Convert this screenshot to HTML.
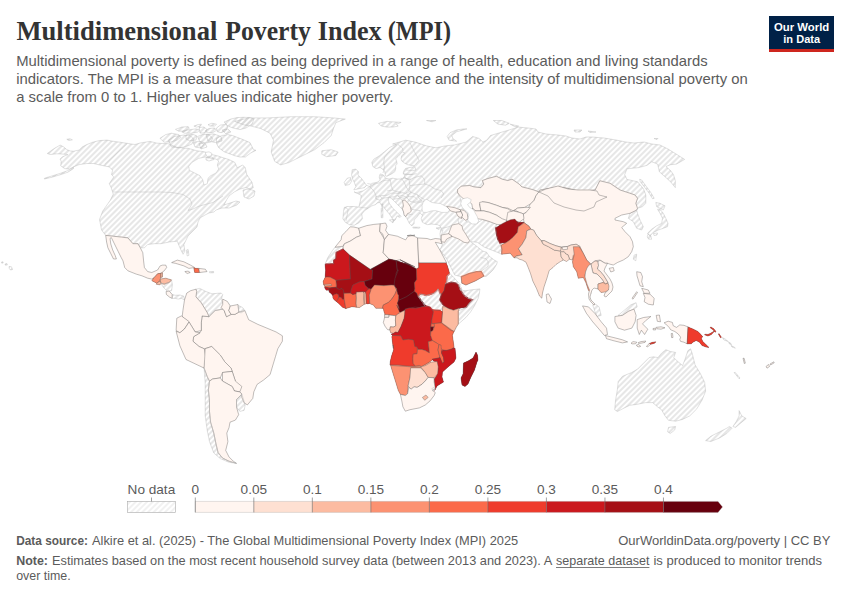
<!DOCTYPE html>
<html><head><meta charset="utf-8"><style>
html,body{margin:0;padding:0;background:#fff;width:850px;height:600px;overflow:hidden}
svg{display:block}
.t{font-family:"Liberation Serif",serif;font-weight:bold;font-size:27px;fill:#333}
.s{font-family:"Liberation Sans",sans-serif;font-size:14.6px;fill:#5b5b5b}
.f{font-family:"Liberation Sans",sans-serif;font-size:12.8px;fill:#5b5b5b}
.fb{font-weight:bold}
.lg{font-family:"Liberation Sans",sans-serif;font-size:13.6px;fill:#5b5b5b}
.nd{fill:url(#hatch);stroke:#bbb;stroke-width:0.45}
.wt{fill:#fff;stroke:#bbb;stroke-width:0.45}
.cl{stroke:#555;stroke-opacity:0.75;stroke-width:0.5}
.ln{fill:none;stroke:#bbb;stroke-width:0.45}
.logo{font-family:"Liberation Sans",sans-serif;font-weight:bold;font-size:11.8px;fill:#fff}
</style></head><body>
<svg width="850" height="600" viewBox="0 0 850 600">
<defs>
<pattern id="hatch" patternUnits="userSpaceOnUse" width="4" height="4" patternTransform="rotate(-45 2 2)">
<path d="M-1,2 l6,0" stroke="#cfcfcf" stroke-width="0.6"/>
</pattern>
</defs>
<rect width="850" height="600" fill="#fff"/>
<text x="16.5" y="40.1" class="t" textLength="200.8" lengthAdjust="spacingAndGlyphs">Multidimensional</text>
<text x="225.3" y="40.1" class="t" textLength="85.6" lengthAdjust="spacingAndGlyphs">Poverty</text>
<text x="317.8" y="40.1" class="t" textLength="63.8" lengthAdjust="spacingAndGlyphs">Index</text>
<text x="387.8" y="40.1" class="t" textLength="63.2" lengthAdjust="spacingAndGlyphs">(MPI)</text>
<text x="16.2" y="66.4" class="s" textLength="691.5" lengthAdjust="spacingAndGlyphs">Multidimensional poverty is defined as being deprived in a range of health, education and living standards</text>
<text x="16.2" y="84.1" class="s" textLength="731.6" lengthAdjust="spacingAndGlyphs">indicators. The MPI is a measure that combines the prevalence and the intensity of multidimensional poverty on</text>
<text x="16.2" y="101.7" class="s" textLength="377.3" lengthAdjust="spacingAndGlyphs">a scale from 0 to 1. Higher values indicate higher poverty.</text>
<rect x="769" y="16" width="65" height="36" fill="#002147"/>
<rect x="769" y="49" width="65" height="3" fill="#ce261e"/>
<text x="774" y="30.6" class="logo" textLength="55.2" lengthAdjust="spacingAndGlyphs">Our World</text>
<text x="783.3" y="42.6" class="logo" textLength="36.8" lengthAdjust="spacingAndGlyphs">in Data</text>
<g id="map">
<clipPath id="landclip"><path d="M768.50,364.50 766.00,366.50 767.00,368.20 769.50,366.50 769.15,365.80 774.20,362.80 773.80,361.80 768.64,364.79Z M741.76,415.88 739.12,410.59 739.12,415.88 736.47,421.18 732.94,426.47 735.59,427.35 740.88,422.94 746.18,418.53Z M743.00,358.20 744.30,363.50 745.30,363.20 744.20,358.40Z M734.20,372.60 739.20,378.80 740.00,378.00 735.20,372.40Z M721.52,337.13 721.27,337.00 718.90,333.50 718.60,334.40 720.50,337.70Z M722.40,337.60 724.00,340.00 728.13,341.55 727.88,341.38 726.00,339.50Z M728.50,341.80 729.00,343.50 730.11,344.17 732.00,347.00 735.30,348.20 734.50,347.20 731.80,345.89 731.00,343.50Z M732.06,428.24 729.41,426.47 726.76,428.24 719.71,431.76 710.88,436.18 705.59,440.59 710.88,441.47 719.71,437.94 726.76,433.53Z M704.50,334.80 707.80,336.00 711.10,334.80 713.50,332.30 714.30,331.23 715.20,332.30 716.00,331.50 713.50,328.60 710.70,326.90 710.20,327.80 713.10,329.80 714.25,331.17 712.70,331.90 710.20,333.50 707.80,334.40 705.00,334.20Z M679.80,339.70 680.60,341.40 683.90,342.20 687.20,343.80 691.30,343.80 692.90,342.20 696.20,340.50 699.50,342.20 702.00,345.50 706.10,347.10 709.00,347.50 706.10,344.70 702.80,341.40 701.20,338.10 702.80,336.80 700.40,334.00 697.90,331.50 692.90,329.00 688.00,326.90 683.90,325.30 679.80,324.90 676.50,327.40 673.20,325.70 672.40,322.40 668.20,321.20 664.10,322.80 665.80,324.10 669.10,327.40 670.70,329.80 674.80,331.50 678.10,333.90 680.60,337.20Z M661.47,409.71 665.00,415.88 668.53,420.29 675.59,421.18 682.65,419.41 689.71,415.88 696.76,408.82 702.06,400.00 705.59,391.18 704.71,382.35 700.29,373.53 695.00,364.71 692.35,354.12 690.59,348.82 687.94,350.59 685.29,358.53 682.65,365.59 677.35,361.18 673.82,357.65 675.59,352.35 670.29,351.47 665.88,349.71 661.47,353.24 657.94,357.65 653.53,356.76 649.12,357.65 642.94,363.82 637.65,369.12 631.47,372.65 622.65,376.18 618.24,381.47 617.35,389.41 615.59,400.00 614.71,409.71 617.35,411.47 622.65,408.82 629.71,405.29 636.76,404.41 645.59,402.65 652.65,402.65 657.94,407.06Z M324.59,287.22 325.06,288.82 326.47,290.24 328.82,290.05 329.11,292.12 331.18,293.53 332.87,295.69 332.87,297.76 334.00,299.65 336.35,301.53 338.71,303.41 342.47,307.18 345.76,308.59 351.88,306.71 356.59,307.18 359.41,307.65 364.58,304.03 364.59,304.35 366.47,303.41 366.94,303.88 369.76,303.41 370.00,303.75 373.33,305.00 375.83,308.33 383.33,308.33 384.00,311.67 385.00,314.17 384.58,314.83 384.58,317.08 384.17,319.17 383.33,322.50 385.00,326.25 387.50,329.58 389.83,330.00 390.83,332.92 393.75,333.33 391.25,334.17 392.50,335.42 391.83,336.67 392.50,342.50 393.57,350.00 391.71,355.59 390.29,361.24 389.94,364.91 390.46,364.92 393.53,375.00 395.88,382.65 398.24,390.29 400.35,394.41 401.76,400.88 402.94,406.76 405.29,411.24 410.00,409.71 419.41,407.94 425.29,405.00 430.00,400.88 434.12,395.59 435.29,392.65 434.14,391.72 434.83,390.34 434.94,390.29 434.91,390.18 437.00,386.00 443.50,382.00 442.00,377.00 442.50,372.00 448.00,367.00 454.00,362.00 456.00,358.00 455.00,348.00 454.29,348.20 452.35,335.29 453.90,331.68 454.00,331.76 456.35,327.06 458.24,324.24 465.76,317.65 470.47,312.00 474.24,306.35 478.00,298.82 479.41,293.18 479.88,288.94 470.47,289.88 465.76,290.82 462.14,290.30 461.06,287.06 458.71,285.65 460.59,285.06 456.35,280.35 452.59,276.12 449.58,273.29 447.41,265.76 446.47,263.88 446.47,262.65 442.25,254.59 443.13,254.05 446.70,259.00 452.00,269.70 454.70,275.00 461.18,276.80 461.76,283.24 465.88,285.00 465.89,285.00 465.90,285.00 475.30,280.90 483.80,276.20 486.00,276.50 489.30,273.70 493.30,269.70 496.70,264.30 497.30,261.70 494.70,260.30 489.30,256.30 486.70,252.30 482.70,251.00 476.00,245.70 470.70,241.70 477.30,242.30 484.00,247.00 490.70,249.70 497.30,252.30 501.70,254.30 510.25,253.25 514.00,257.75 517.00,257.75 519.25,259.25 522.25,260.00 526.00,262.25 528.25,267.50 530.50,273.50 532.75,281.00 536.50,288.50 539.50,296.00 541.75,298.25 542.50,293.00 544.00,287.00 547.00,278.00 549.25,270.50 553.00,267.50 556.00,264.50 560.50,261.50 563.50,260.00 566.50,261.50 569.50,259.25 572.87,260.19 572.50,261.67 573.33,266.67 576.67,271.67 578.33,278.33 583.33,277.50 585.83,282.50 588.33,290.00 589.21,291.17 588.50,294.00 589.00,299.00 591.00,302.00 593.69,304.69 592.71,304.82 595.87,314.34 588.47,306.94 582.54,305.88 586.35,313.29 592.71,321.76 599.06,329.18 604.35,335.53 604.80,335.38 605.30,335.21 607.53,334.47 606.47,328.12 601.18,321.76 597.17,316.41 601.18,315.41 599.06,306.94 595.88,304.40 595.46,304.46 591.00,300.00 590.00,297.00 591.00,293.00 592.00,290.00 594.00,288.00 598.00,289.00 601.00,292.50 605.35,291.96 604.00,296.00 606.00,297.00 612.00,291.00 613.00,287.00 612.00,283.00 610.00,279.00 604.00,271.00 605.00,268.00 607.50,263.30 610.00,264.20 613.30,265.00 617.50,262.50 623.30,260.00 628.30,256.70 631.70,251.70 633.30,246.70 632.50,241.70 630.00,236.70 625.00,231.70 621.70,227.50 626.70,223.30 623.30,221.70 615.00,220.00 615.00,218.30 621.70,215.00 630.01,213.30 628.33,218.33 633.33,221.67 636.67,228.33 641.67,230.00 643.33,226.67 640.00,220.00 637.50,213.33 636.68,210.04 637.50,208.30 642.50,206.70 645.80,203.30 645.80,195.00 643.50,188.80 637.60,181.80 627.00,179.40 624.70,174.70 627.00,168.80 638.80,167.60 647.10,165.30 651.80,161.80 657.60,164.10 659.40,171.80 664.70,176.50 670.60,181.80 675.30,187.60 675.30,180.60 673.50,174.70 670.60,170.60 665.90,166.50 670.60,164.70 676.50,164.10 684.70,159.40 675.30,153.50 668.00,149.00 660.00,145.00 652.00,144.00 644.00,142.00 634.00,143.00 626.00,142.00 616.00,140.00 604.00,138.00 592.00,137.00 586.00,137.00 580.00,139.00 572.00,138.00 566.00,136.00 558.00,135.00 546.00,134.00 538.00,132.00 536.00,129.00 528.00,128.00 516.50,126.89 518.70,126.10 510.20,124.20 516.93,127.63 509.30,129.90 499.90,132.70 490.50,135.50 486.70,140.20 482.90,142.10 479.20,138.40 472.60,136.50 466.00,142.10 454.70,144.90 445.30,145.90 435.90,147.80 426.50,145.90 415.20,142.10 405.80,140.20 392.60,144.00 396.12,144.24 389.76,147.41 384.47,151.65 379.18,155.88 373.88,159.06 371.76,162.24 372.82,166.47 376.00,168.59 380.24,167.53 384.47,170.71 385.53,176.00 387.00,176.30 389.00,175.20 392.00,173.70 395.00,171.50 395.70,168.50 395.70,165.50 397.20,164.00 396.50,161.00 395.70,158.70 398.00,156.50 400.20,154.20 401.70,152.40 402.50,152.00 404.70,153.10 401.70,155.70 401.00,158.70 401.70,161.00 404.70,163.20 407.70,164.70 411.50,165.50 416.25,165.50 416.32,166.48 408.50,167.70 405.50,168.50 404.00,170.70 403.20,173.00 404.70,175.20 404.00,177.50 401.70,179.00 397.20,179.00 392.70,178.20 389.00,179.00 385.98,178.23 386.11,178.90 386.07,178.92 385.53,178.12 383.89,175.67 383.41,174.94 380.24,173.88 379.18,177.06 380.24,180.24 377.06,182.35 371.76,183.41 369.65,186.59 366.47,188.71 363.29,190.82 359.06,191.88 356.24,192.82 361.18,195.29 360.59,200.00 359.41,204.71 358.82,207.06 354.12,206.47 347.06,206.47 344.12,207.65 343.53,211.76 342.94,218.82 345.29,222.35 349.41,224.71 354.12,225.29 358.82,222.94 362.35,218.82 361.76,214.12 364.71,210.59 368.24,208.24 371.76,205.88 375.29,204.71 377.65,202.94 380.00,202.35 380.59,204.12 381.76,205.29 381.76,208.24 381.18,208.24 381.18,217.65 382.94,217.65 382.94,206.35 386.47,210.59 389.41,214.12 391.76,217.65 392.73,219.58 389.41,220.00 392.94,222.94 393.53,221.18 395.29,220.00 397.06,215.88 399.41,217.41 401.18,216.47 397.65,212.94 392.94,208.24 389.41,203.53 388.24,200.00 389.41,197.06 391.76,198.82 395.29,202.35 398.82,205.88 402.35,209.41 403.53,211.76 404.12,215.29 405.19,216.00 407.06,218.82 409.41,223.53 411.76,225.88 412.78,224.87 412.94,224.71 414.12,223.53 414.12,220.00 416.47,217.65 420.00,212.94 422.35,215.29 421.18,218.82 422.35,222.35 427.06,224.71 431.76,224.12 437.65,224.71 440.00,226.00 440.70,227.24 441.26,226.48 440.00,233.70 440.61,239.12 435.29,238.53 430.82,239.71 427.06,238.53 417.65,237.94 414.12,236.18 410.59,235.00 407.06,235.59 408.53,235.53 405.59,239.94 397.35,236.18 388.53,234.41 385.59,230.29 387.00,226.18 385.59,223.00 380.29,223.82 373.82,224.41 366.76,225.59 358.76,228.18 353.82,227.00 350.29,226.76 345.82,231.71 341.82,235.59 341.12,239.71 336.76,245.00 335.00,247.35 332.65,250.29 327.94,257.35 325.00,264.18 325.59,270.29 325.06,277.53 323.18,281.29 323.65,284.59 325.28,287.31Z M530.44,203.82 528.62,207.41 524.71,207.41Z M518.94,222.57 523.50,219.09 524.09,222.23Z M500.78,245.23 500.20,243.20 505.54,242.77 505.56,242.84Z M496.42,224.34 500.34,224.84 496.09,227.66Z M459.63,195.28 462.59,198.24 468.24,201.06 471.76,203.88 472.47,208.12 473.88,215.18 476.71,218.71 482.63,219.45 477.30,223.00 470.70,222.30 466.70,221.70 467.26,219.37 468.00,219.00 467.78,217.23 468.00,216.30 467.57,215.59 467.33,213.67 464.97,211.31 464.00,209.70 461.30,203.00Z M464.84,307.49 464.96,307.89 458.24,311.06 459.65,308.24Z M439.84,250.02 435.29,242.29 438.82,243.00 442.70,244.08Z M439.27,309.71 442.59,309.16 442.45,311.82Z M432.20,359.80 435.01,361.68 429.74,362.20Z M400.00,259.71 405.66,262.86 405.33,263.62 396.18,260.65Z M508.86,123.52 509.30,123.30 501.80,120.50 493.30,120.50 498.00,124.20 505.50,125.20 508.33,123.78 508.33,123.78Z M440.50,227.50 436.00,228.00 439.00,229.50Z M412.94,227.06 412.94,228.00 419.41,228.24 420.00,227.29Z M605.41,335.53 606.47,338.71 613.88,340.82 622.35,342.94 627.65,341.88 622.35,339.76 613.88,337.65Z M674.71,430.00 675.59,426.47 668.53,427.35 667.65,431.76 670.29,433.53Z M671.20,333.50 671.60,337.60 673.00,337.50 672.50,333.40Z M648.09,233.89 647.20,237.00 648.70,239.20 651.70,239.20 650.63,235.17 652.13,233.67 651.31,233.77 651.24,233.53 658.30,230.00 663.30,228.30 667.50,226.70 668.00,223.30 665.80,218.30 663.30,213.30 660.00,209.20 657.50,209.20 660.00,213.30 662.50,218.30 661.70,223.30 656.70,225.80 651.70,229.20 647.50,233.30Z M658.83,207.75 658.83,207.74 660.00,208.33 661.75,209.20 661.73,209.20 663.33,210.00 665.00,205.83 660.00,203.33 655.83,202.50 656.67,206.67Z M653.50,233.50 654.00,235.50 657.00,235.00 657.50,233.00Z M653.00,328.50 653.30,330.00 655.80,329.80 655.59,328.66 661.00,329.20 665.00,327.80 661.00,326.80 656.00,327.40 656.49,328.08Z M656.24,315.41 657.29,321.34 660.47,321.76 659.41,314.99Z M654.00,138.50 657.00,139.50 658.00,138.50Z M646.50,346.50 647.00,347.00 648.50,346.30 650.50,344.30 652.00,344.00 655.00,343.00 655.70,341.80 652.50,342.30 649.80,343.20 648.00,344.50Z M641.67,288.33 644.23,293.44 643.33,293.33 645.00,297.50 644.17,301.67 648.33,304.17 653.33,305.00 654.17,298.33 649.16,293.33 650.00,293.33 648.33,290.00Z M641.67,180.00 639.67,179.17 640.33,181.67 644.17,186.67 649.17,193.33 652.50,198.67 654.17,198.33 650.83,192.50 645.83,185.83Z M650.94,316.47 643.53,317.53 637.18,319.65 637.18,328.12 639.29,334.47 641.41,330.24 644.59,334.47 647.76,329.18 642.47,323.88 645.65,320.71Z M636.40,345.00 637.00,346.20 639.00,347.00 640.70,346.30 638.50,344.50Z M638.50,343.40 641.00,343.20 645.00,342.40 645.80,341.00 641.00,341.60 638.20,342.60Z M636.80,342.20 633.00,341.60 631.00,343.20 632.00,343.90 635.50,343.80 635.77,343.47Z M640.83,272.50 636.67,271.67 637.00,275.83 638.33,280.00 640.00,285.83 643.33,286.67 641.67,281.67 642.50,276.67Z M632.00,298.33 633.00,299.17 637.50,292.50 636.67,291.67Z M617.24,316.14 614.94,316.47 614.94,321.76 618.12,328.12 624.47,330.24 631.88,328.12 635.06,321.76 636.12,315.41 634.00,309.06 637.18,306.94 636.12,302.71 630.82,304.82 624.47,310.12Z M634.17,255.00 633.33,259.17 635.83,260.83 636.67,254.17Z M613.33,267.50 609.17,268.33 610.83,272.00 614.17,270.83Z M596.00,132.00 588.00,131.00 590.00,132.50Z M574.00,130.00 575.00,132.00 580.00,132.00 582.00,130.00Z M551.50,299.00 548.50,293.75 546.25,294.50 547.00,302.00 550.00,303.50Z M465.00,386.50 468.00,384.00 471.00,377.00 474.50,370.00 477.00,362.00 478.00,360.00 477.50,355.00 476.00,352.00 473.00,358.00 468.00,361.00 463.50,363.00 463.00,374.00 461.00,378.00 462.00,385.00Z M451.90,135.50 456.60,131.80 466.90,128.90 464.10,128.90 456.60,129.90 450.00,132.70 447.20,136.50 449.10,140.20 456.60,141.20 452.80,138.40Z M426.50,120.50 432.10,121.80 435.90,120.50Z M386.90,121.40 378.50,123.30 381.30,126.10 386.90,127.10 392.60,127.10 398.20,126.10 396.40,124.20 401.10,122.40Z M349.53,184.47 351.65,181.29 350.59,177.59 347.41,178.12 344.24,182.35 345.29,185.53Z M352.71,179.18 354.29,182.35 355.88,186.59 353.76,189.76 359.06,188.71 364.35,187.65 366.47,185.53 364.35,182.35 361.18,178.12 358.00,174.94 358.53,171.76 355.88,169.12 352.18,169.65 351.65,174.94Z M70.17,169.22 67.90,170.60 60.10,173.40 51.20,176.20 44.50,178.20 44.30,179.00 51.20,177.40 60.10,174.80 67.90,172.20 73.50,168.60 73.50,166.90 79.10,164.60 86.90,163.50 93.60,163.50 98.10,164.60 103.70,165.80 109.30,166.90 112.60,170.20 111.50,174.70 113.80,176.90 109.30,183.60 111.20,187.80 113.30,194.10 110.10,200.50 102.70,211.10 99.50,219.50 101.60,230.10 105.70,235.40 106.60,242.10 107.90,247.80 113.50,259.00 116.40,259.00 115.20,255.50 112.70,250.00 110.80,244.00 110.00,238.50 111.30,237.50 114.50,244.00 118.20,251.50 121.00,257.20 123.00,260.94 124.65,267.53 127.94,270.82 136.18,274.12 141.94,275.76 147.71,278.24 152.89,279.27 151.82,280.71 156.76,283.18 156.27,284.33 160.06,284.82 160.88,283.18 163.35,287.29 167.35,291.29 166.12,291.47 166.42,294.53 169.48,297.13 172.24,298.35 175.29,298.35 178.35,299.12 181.41,298.35 184.47,299.88 183.71,296.06 179.88,294.99 175.29,295.29 172.24,294.53 169.22,291.06 171.59,290.59 172.41,284.82 171.51,279.96 171.59,279.88 171.49,279.85 165.82,278.24 158.63,279.26 158.39,277.91 162.53,277.08 162.53,272.06 164.18,270.82 166.65,267.53 165.82,265.06 162.53,265.06 160.06,265.88 157.59,270.00 151.82,272.47 147.71,271.65 144.41,267.53 143.59,260.94 142.76,252.71 140.29,247.76 144.41,247.76 147.71,244.47 154.29,243.65 160.88,243.65 169.12,242.00 177.35,241.18 178.18,243.65 180.65,249.41 183.12,254.35 184.76,251.06 183.94,244.47 188.00,236.00 197.00,227.00 198.00,222.00 200.00,218.00 205.00,215.00 209.00,213.00 214.00,212.00 216.00,210.00 222.00,208.00 229.00,208.00 237.00,205.00 240.00,202.00 236.00,201.00 224.00,205.00 226.70,199.70 229.30,195.70 234.70,191.70 240.00,189.00 245.30,187.70 249.99,188.83 249.99,188.83 243.00,190.00 244.00,197.00 249.00,199.00 254.00,196.00 255.00,191.00 250.02,189.34 253.30,187.70 252.00,182.30 249.30,178.30 246.70,174.30 245.30,167.70 242.70,165.00 237.30,167.70 234.70,162.30 229.30,159.70 224.00,158.00 218.00,156.00 211.20,154.40 204.00,151.70 197.00,150.80 188.80,148.50 182.89,147.90 192.00,144.00 192.79,142.01 190.29,142.19 190.14,140.98 196.00,140.00 197.00,136.00 191.24,133.70 191.28,134.12 186.00,135.00 186.00,135.24 183.53,135.06 179.54,135.66 178.82,134.59 171.29,133.18 165.65,134.59 160.00,138.35 165.21,143.57 157.10,143.20 150.00,141.40 140.00,143.00 135.00,144.50 127.20,143.40 120.50,142.30 112.60,141.20 107.10,140.10 99.20,140.60 92.50,142.30 86.90,144.50 82.50,146.80 79.10,150.10 73.50,151.20 70.20,151.00 66.80,149.60 63.50,146.80 60.10,145.10 53.40,149.00 47.30,153.50 50.00,154.50 56.80,153.80 62.00,154.00 67.90,154.60 62.40,156.80 60.10,159.10 61.20,161.30 60.70,165.80 64.60,168.60Z M164.27,142.21 164.28,142.12 169.28,142.12 170.36,144.64Z M191.06,133.18 197.65,132.24 199.45,129.98 200.00,133.00 205.00,133.00 205.86,131.50 207.06,132.71 212.71,132.71 216.47,130.35 214.59,128.00 208.94,128.47 207.13,129.60 204.00,127.00 199.82,127.42 201.41,124.24 197.65,124.71 193.88,126.12 196.71,127.06 198.82,126.53 199.43,129.85 195.76,128.94 186.59,130.09 189.18,128.47 188.24,126.59 181.65,127.06 175.53,129.41 178.82,131.29 180.48,131.17 184.47,133.18Z M216.98,130.03 217.32,131.42 217.41,131.76 221.18,132.71 223.70,131.70 226.00,134.00 231.00,132.00 228.00,129.00 226.68,129.22 228.24,126.10 233.00,128.00 240.00,129.60 246.00,128.00 249.29,125.80 251.18,126.12 260.59,128.47 270.00,133.18 273.53,140.24 271.18,152.00 274.71,161.41 280.59,164.94 288.82,162.59 300.59,156.71 314.71,149.65 324.12,142.59 331.18,135.53 333.53,128.47 335.88,122.59 345.29,119.06 333.53,117.88 314.71,116.71 291.18,116.71 267.65,117.88 251.01,117.88 250.00,117.50 244.00,117.30 237.00,117.60 231.00,119.00 224.00,122.00 226.19,124.19 220.24,125.18 216.47,128.00Z M226.30,134.30 226.76,134.76 222.12,135.53 220.52,136.33 214.00,134.00 213.03,134.06 210.28,134.23 207.06,134.43 204.31,134.20 204.69,133.53 197.91,136.36 197.55,136.22 199.67,141.52 193.00,142.00 195.00,147.00 200.61,147.94 201.00,149.00 207.00,147.00 205.04,143.08 210.82,142.12 211.05,141.65 215.00,142.50 216.49,142.18 216.50,143.50 218.70,147.70 224.00,151.70 229.30,153.70 234.70,155.70 240.00,157.00 245.30,157.00 250.70,153.00 256.00,150.30 253.50,149.60 250.00,142.60 241.80,139.10 232.40,135.50Z M184.47,299.88 182.94,310.59 182.20,316.53 181.41,315.94 176.82,318.24 176.02,331.09 179.88,345.76 186.00,359.53 204.07,368.14 205.15,383.29 205.15,415.76 207.32,430.91 209.48,441.73 213.81,452.99 220.30,458.61 228.96,462.29 236.54,463.38 233.29,461.21 228.96,456.88 225.71,450.39 227.88,441.73 226.80,433.07 228.96,427.66 230.04,422.25 235.45,420.09 238.70,414.68 236.65,407.50 236.79,407.43 239.78,411.43 244.11,410.35 245.45,403.66 247.36,404.94 252.77,398.44 253.85,391.95 257.10,384.37 263.59,380.04 270.09,374.63 273.33,363.81 275.47,356.47 277.76,348.82 282.35,341.18 282.35,335.82 276.24,332.00 267.06,328.18 257.88,324.35 248.71,319.76 244.88,310.59 242.59,307.53 238.08,305.28 238.00,304.47 230.35,306.00 227.29,301.41 221.56,298.55 222.71,294.53 221.18,293.00 212.00,293.76 205.88,291.47 199.76,288.41 195.94,289.18 190.59,290.71 186.76,293.00Z M220.30,377.88 222.39,372.68 222.47,372.69 222.47,381.13Z M201.29,330.47 199.79,332.72 195.21,332.00 195.21,331.99Z M326.47,156.71 335.88,155.53 338.24,152.00 331.18,149.65 321.76,150.82 321.76,154.35Z M214.59,126.12 216.47,124.24 211.76,123.29 208.00,124.71 209.88,126.12Z M209.47,271.65 209.64,272.80 213.59,272.80 213.59,271.48Z M177.35,260.12 171.59,262.59 175.71,263.41 183.94,265.88 188.88,268.35 193.68,267.67 194.65,272.47 199.59,272.47 207.00,271.65 205.35,269.18 198.76,268.35 196.02,268.35 190.53,265.06 183.94,261.76Z M188.06,271.15 184.76,271.65 187.24,273.46 190.20,272.47Z M188.06,249.41 186.41,250.24 187.24,256.00 188.88,255.18Z M66.80,139.30 69.00,140.60 72.40,139.80 70.00,138.80Z M1.50,262.00 1.80,263.20 3.20,263.00 3.00,261.80Z M5.00,264.00 5.40,265.20 7.40,265.00 7.00,263.60Z M9.00,266.50 9.30,268.50 10.50,270.00 12.50,269.50 11.50,266.80Z"/></clipPath>
<g clip-path="url(#landclip)">
<path d="M47.3,153.5 53.4,149.0 60.1,145.1 63.5,146.8 66.8,149.6 70.2,151.0 73.5,151.2 79.1,150.1 82.5,146.8 86.9,144.5 92.5,142.3 99.2,140.6 107.1,140.1 112.6,141.2 120.5,142.3 127.2,143.4 135.0,144.5 140.0,143.0 150.0,141.4 157.1,143.2 168.0,143.7 177.0,147.3 188.8,148.5 197.0,150.8 204.0,151.7 211.2,154.4 218.0,156.0 224.0,158.0 229.3,159.7 234.7,162.3 237.3,167.7 242.7,165.0 245.3,167.7 246.7,174.3 249.3,178.3 252.0,182.3 253.3,187.7 250.7,189.0 245.3,187.7 240.0,189.0 234.7,191.7 229.3,195.7 226.7,199.7 224.0,205.0 230.0,203.0 236.0,201.0 240.0,202.0 237.0,205.0 229.0,208.0 222.0,208.0 216.0,210.0 214.0,212.0 209.0,213.0 205.0,215.0 200.0,218.0 198.0,222.0 197.0,227.0 193.0,231.0 188.0,236.0 183.9,244.5 184.8,251.1 183.1,254.3 180.7,249.4 178.2,243.7 177.3,241.2 169.1,242.0 160.9,243.7 154.3,243.7 147.7,244.5 144.4,247.8 141.1,247.8 137.8,243.7 132.9,243.7 127.9,237.9 121.3,237.1 113.1,236.2 105.7,235.4 101.6,230.1 99.5,219.5 102.7,211.1 110.1,200.5 113.3,194.1 111.2,187.8 109.3,183.6 113.8,176.9 111.5,174.7 112.6,170.2 109.3,166.9 103.7,165.8 98.1,164.6 93.6,163.5 86.9,163.5 79.1,164.6 73.5,166.9 69.1,169.1 64.6,168.6 60.7,165.8 61.2,161.3 60.1,159.1 62.4,156.8 67.9,154.6 62.0,154.0 56.8,153.8 50.0,154.5Z" fill="url(#hatch)" stroke="url(#hatch)" stroke-width="1.6"/>
<path d="M73.5,167.2 67.9,170.6 60.1,173.4 51.2,176.2 44.5,178.2 44.3,179.0 51.2,177.4 60.1,174.8 67.9,172.2 73.5,168.6Z" fill="url(#hatch)" stroke="url(#hatch)" stroke-width="1.6"/>
<path d="M66.8,139.3 70.0,138.8 72.4,139.8 69.0,140.6Z" fill="url(#hatch)" stroke="url(#hatch)" stroke-width="1.6"/>
<path d="M1.5,262.0 3.0,261.8 3.2,263.0 1.8,263.2Z" fill="url(#hatch)" stroke="url(#hatch)" stroke-width="1.6"/>
<path d="M5.0,264.0 7.0,263.6 7.4,265.0 5.4,265.2Z" fill="url(#hatch)" stroke="url(#hatch)" stroke-width="1.6"/>
<path d="M9.0,266.5 11.5,266.8 12.5,269.5 10.5,270.0 9.3,268.5Z" fill="url(#hatch)" stroke="url(#hatch)" stroke-width="1.6"/>
<path d="M175.5,129.4 181.7,127.1 188.2,126.6 189.2,128.5 185.4,130.8 178.8,131.3Z" fill="url(#hatch)" stroke="url(#hatch)" stroke-width="1.6"/>
<path d="M193.9,126.1 197.7,124.7 201.4,124.2 200.5,126.1 196.7,127.1Z" fill="url(#hatch)" stroke="url(#hatch)" stroke-width="1.6"/>
<path d="M181.7,131.8 188.2,129.9 195.8,128.9 199.5,129.9 197.7,132.2 191.1,133.2 184.5,133.2Z" fill="url(#hatch)" stroke="url(#hatch)" stroke-width="1.6"/>
<path d="M205.2,130.8 208.9,128.5 214.6,128.0 216.5,130.3 212.7,132.7 207.1,132.7Z" fill="url(#hatch)" stroke="url(#hatch)" stroke-width="1.6"/>
<path d="M208.0,124.7 211.8,123.3 216.5,124.2 214.6,126.1 209.9,126.1Z" fill="url(#hatch)" stroke="url(#hatch)" stroke-width="1.6"/>
<path d="M216.5,128.0 220.2,125.2 225.9,124.2 227.8,127.1 225.9,130.8 221.2,132.7 217.4,131.8Z" fill="url(#hatch)" stroke="url(#hatch)" stroke-width="1.6"/>
<path d="M224.0,122.0 231.0,119.0 237.0,117.6 244.0,117.3 250.0,117.5 254.0,119.0 252.0,124.0 246.0,128.0 240.0,129.6 233.0,128.0 228.0,126.0Z" fill="url(#hatch)" stroke="url(#hatch)" stroke-width="1.6"/>
<path d="M160.0,138.3 165.7,134.6 171.3,133.2 178.8,134.6 180.7,137.4 176.9,140.2 170.3,142.1 163.8,142.1Z" fill="url(#hatch)" stroke="url(#hatch)" stroke-width="1.6"/>
<path d="M168.5,140.2 174.1,136.5 183.5,135.1 190.1,135.5 193.9,139.3 192.0,144.0 185.4,146.8 178.8,147.8 171.3,146.8Z" fill="url(#hatch)" stroke="url(#hatch)" stroke-width="1.6"/>
<path d="M197.7,136.5 203.3,134.1 208.9,134.6 212.7,138.3 210.8,142.1 205.2,143.1 199.5,141.2Z" fill="url(#hatch)" stroke="url(#hatch)" stroke-width="1.6"/>
<path d="M216.5,138.3 222.1,135.5 227.8,134.6 232.4,135.5 241.8,139.1 250.0,142.6 253.5,149.6 256.0,150.3 250.7,153.0 245.3,157.0 240.0,157.0 234.7,155.7 229.3,153.7 224.0,151.7 218.7,147.7 216.5,143.5Z" fill="url(#hatch)" stroke="url(#hatch)" stroke-width="1.6"/>
<path d="M206.0,134.5 214.0,134.0 221.0,136.5 222.0,141.0 215.0,142.5 208.0,141.0Z" fill="url(#hatch)" stroke="url(#hatch)" stroke-width="1.6"/>
<path d="M199.0,143.5 205.0,143.0 207.0,147.0 201.0,149.0Z" fill="url(#hatch)" stroke="url(#hatch)" stroke-width="1.6"/>
<path d="M186.0,135.0 192.0,134.0 197.0,136.0 196.0,140.0 190.0,141.0 186.0,139.0Z" fill="url(#hatch)" stroke="url(#hatch)" stroke-width="1.6"/>
<path d="M199.0,127.5 204.0,127.0 207.0,129.5 205.0,133.0 200.0,133.0Z" fill="url(#hatch)" stroke="url(#hatch)" stroke-width="1.6"/>
<path d="M193.0,142.0 200.0,141.5 204.0,144.5 201.0,148.0 195.0,147.0Z" fill="url(#hatch)" stroke="url(#hatch)" stroke-width="1.6"/>
<path d="M222.0,130.0 228.0,129.0 231.0,132.0 226.0,134.0Z" fill="url(#hatch)" stroke="url(#hatch)" stroke-width="1.6"/>
<path d="M206.0,157.5 212.0,157.0 214.0,159.5 209.0,161.0 206.0,160.0Z" fill="url(#hatch)" stroke="url(#hatch)" stroke-width="1.6"/>
<path d="M243.0,190.0 249.0,189.0 255.0,191.0 254.0,196.0 249.0,199.0 244.0,197.0Z" fill="url(#hatch)" stroke="url(#hatch)" stroke-width="1.6"/>
<path d="M234.7,121.4 248.8,117.9 267.6,117.9 291.2,116.7 314.7,116.7 333.5,117.9 345.3,119.1 335.9,122.6 333.5,128.5 331.2,135.5 324.1,142.6 314.7,149.7 300.6,156.7 288.8,162.6 280.6,164.9 274.7,161.4 271.2,152.0 273.5,140.2 270.0,133.2 260.6,128.5 251.2,126.1 244.1,124.9Z" fill="url(#hatch)" stroke="url(#hatch)" stroke-width="1.6"/>
<path d="M321.8,150.8 331.2,149.7 338.2,152.0 335.9,155.5 326.5,156.7 321.8,154.3Z" fill="url(#hatch)" stroke="url(#hatch)" stroke-width="1.6"/>
<path d="M105.7,235.4 113.1,236.2 121.3,237.1 127.9,237.9 132.9,243.7 137.8,243.7 140.3,247.8 142.8,252.7 143.6,260.9 144.4,267.5 147.7,271.6 151.8,272.5 157.6,270.0 160.1,265.9 162.5,265.1 165.8,265.1 166.7,267.5 164.2,270.8 160.9,273.3 157.6,273.8 154.3,277.4 151.8,279.1 147.7,278.2 141.9,275.8 136.2,274.1 127.9,270.8 124.7,267.5 123.0,260.9 121.0,257.2 118.2,251.5 114.5,244.0 111.3,237.5 110.0,238.5 110.8,244.0 112.7,250.0 115.2,255.5 116.4,259.0 113.5,259.0 110.7,253.4 107.9,247.8 106.6,242.1Z" fill="#fff5f0" stroke="#fff5f0" stroke-width="1.6"/>
<path d="M154.3,277.4 157.6,273.8 160.9,273.3 160.9,275.8 160.1,280.7 156.8,283.2 151.8,280.7Z" fill="#fc9272" stroke="#fc9272" stroke-width="1.6"/>
<path d="M160.9,273.3 162.5,272.8 162.5,277.1 160.9,277.4Z" fill="#fcbba1" stroke="#fcbba1" stroke-width="1.6"/>
<path d="M160.1,279.1 165.8,278.2 171.6,279.9 169.1,282.4 164.2,284.0 160.9,283.2Z" fill="#fcbba1" stroke="#fcbba1" stroke-width="1.6"/>
<path d="M156.8,283.2 160.1,281.0 160.9,283.2 160.1,284.8 156.3,284.3Z" fill="#fcbba1" stroke="#fcbba1" stroke-width="1.6"/>
<path d="M160.9,283.2 164.2,284.0 169.1,282.4 171.6,280.4 172.4,284.8 171.6,290.6 167.5,291.4 163.3,287.3Z" fill="url(#hatch)" stroke="url(#hatch)" stroke-width="1.6"/>
<path d="M166.1,291.5 169.2,291.0 172.2,294.5 172.2,298.4 169.5,297.1 166.4,294.5Z" fill="#fff5f0" stroke="#fff5f0" stroke-width="1.6"/>
<path d="M172.2,294.5 175.3,295.3 179.9,295.0 183.7,296.1 184.5,299.9 181.4,298.4 178.3,299.1 175.3,298.4 172.2,298.4Z" fill="url(#hatch)" stroke="url(#hatch)" stroke-width="1.6"/>
<path d="M171.6,262.6 177.3,260.1 183.9,261.8 190.5,265.1 194.7,267.5 188.9,268.4 183.9,265.9 175.7,263.4Z" fill="#fff5f0" stroke="#fff5f0" stroke-width="1.6"/>
<path d="M193.8,268.4 198.8,268.4 199.6,272.5 194.7,272.5Z" fill="#fb6a4a" stroke="#fb6a4a" stroke-width="1.6"/>
<path d="M198.8,268.4 205.3,269.2 207.0,271.6 199.6,272.5Z" fill="#fff5f0" stroke="#fff5f0" stroke-width="1.6"/>
<path d="M184.8,271.6 188.1,271.1 190.2,272.5 187.2,273.5Z" fill="#fff5f0" stroke="#fff5f0" stroke-width="1.6"/>
<path d="M209.5,271.6 213.6,271.5 213.6,272.8 209.6,272.8Z" fill="url(#hatch)" stroke="url(#hatch)" stroke-width="1.6"/>
<path d="M186.4,250.2 188.1,249.4 188.9,255.2 187.2,256.0Z" fill="url(#hatch)" stroke="url(#hatch)" stroke-width="1.6"/>
<path d="M208.9,316.7 215.1,310.6 222.7,309.1 224.2,310.6 226.5,316.7 231.1,314.4 234.9,314.4 238.8,312.1 244.9,310.6 248.7,319.8 257.9,324.4 267.1,328.2 276.2,332.0 282.4,335.8 282.4,341.2 277.8,348.8 275.5,356.5 273.3,363.8 270.1,374.6 263.6,380.0 257.1,384.4 253.8,391.9 252.8,398.4 247.4,404.9 244.1,402.8 241.9,397.4 240.9,393.0 234.4,390.9 235.4,381.1 232.2,371.4 231.1,368.1 224.6,361.6 220.3,355.1 211.7,346.5 204.3,348.8 199.0,346.5 192.9,341.2 193.7,336.6 199.8,332.8 201.3,330.5 201.3,322.8 202.1,315.9Z" fill="#fff5f0" stroke="#fff5f0" stroke-width="1.6"/>
<path d="M195.9,289.2 199.8,288.4 205.9,291.5 212.0,293.8 221.2,293.0 222.7,294.5 221.2,299.9 224.2,305.2 222.7,309.1 215.1,310.6 208.9,316.7 207.4,312.9 201.3,302.9 195.9,296.8 196.7,291.5Z" fill="url(#hatch)" stroke="url(#hatch)" stroke-width="1.6"/>
<path d="M184.5,299.9 186.8,293.0 190.6,290.7 195.9,289.2 196.7,291.5 195.9,296.8 201.3,302.9 207.4,312.9 208.9,316.7 202.1,315.9 201.3,322.8 201.3,330.5 195.2,332.0 189.1,322.1 182.2,316.7 182.9,310.6Z" fill="#fff5f0" stroke="#fff5f0" stroke-width="1.6"/>
<path d="M176.8,318.2 181.4,315.9 189.1,321.6 184.5,328.9 179.9,332.8 176.1,330.5Z" fill="#fff5f0" stroke="#fff5f0" stroke-width="1.6"/>
<path d="M176.1,331.2 179.9,332.8 184.5,328.9 189.1,322.1 195.2,332.0 200.1,332.8 193.7,336.6 192.9,341.2 199.0,346.5 204.3,348.8 205.9,358.0 204.1,368.1 186.0,359.5 179.9,345.8Z" fill="#fff5f0" stroke="#fff5f0" stroke-width="1.6"/>
<path d="M222.7,299.1 227.3,301.4 230.3,306.0 228.8,310.6 231.1,314.4 226.5,316.7 224.2,310.6 221.2,307.5 222.7,304.5Z" fill="#fff5f0" stroke="#fff5f0" stroke-width="1.6"/>
<path d="M230.3,306.0 238.0,304.5 238.8,312.1 234.9,314.4 231.1,314.4 228.8,310.6Z" fill="#fff5f0" stroke="#fff5f0" stroke-width="1.6"/>
<path d="M238.0,305.2 242.6,307.5 244.9,310.6 241.1,312.9 238.8,312.1Z" fill="url(#hatch)" stroke="url(#hatch)" stroke-width="1.6"/>
<path d="M205.2,348.7 211.7,346.5 220.3,355.1 224.6,361.6 231.1,368.1 232.2,371.4 222.5,372.5 220.3,377.9 212.7,379.0 209.5,381.1 207.3,376.8 204.1,368.1Z" fill="#fff5f0" stroke="#fff5f0" stroke-width="1.6"/>
<path d="M222.5,372.5 232.2,371.4 235.4,381.1 241.9,386.5 239.8,391.9 234.4,390.9 232.2,386.5 222.5,381.1Z" fill="#fff5f0" stroke="#fff5f0" stroke-width="1.6"/>
<path d="M209.5,381.1 212.7,379.0 220.3,377.9 222.5,381.1 232.2,386.5 234.4,390.9 239.8,391.9 241.9,394.1 236.5,399.5 236.5,407.1 238.7,414.7 235.4,420.1 230.0,422.2 229.0,427.7 226.8,433.1 227.9,441.7 225.7,450.4 229.0,456.9 233.3,461.2 236.5,463.4 229.0,461.2 222.5,458.0 218.1,452.6 216.0,443.9 213.8,433.1 210.6,422.2 209.5,411.4 209.5,400.6 208.4,389.8Z" fill="#fff5f0" stroke="#fff5f0" stroke-width="1.6"/>
<path d="M236.5,399.5 241.9,394.1 245.2,404.9 244.1,410.4 239.8,411.4 236.5,407.1Z" fill="url(#hatch)" stroke="url(#hatch)" stroke-width="1.6"/>
<path d="M204.1,368.1 207.3,376.8 209.5,381.1 208.4,389.8 209.5,400.6 209.5,411.4 210.6,422.2 213.8,433.1 216.0,443.9 218.1,452.6 222.5,458.0 229.0,461.2 236.5,463.4 229.0,462.3 220.3,458.6 213.8,453.0 209.5,441.7 207.3,430.9 205.2,415.8 205.2,400.6 205.2,383.3Z" fill="url(#hatch)" stroke="url(#hatch)" stroke-width="1.6"/>
<path d="M372.8,166.5 371.8,162.2 373.9,159.1 379.2,155.9 384.5,151.7 389.8,147.4 396.1,144.2 392.6,144.0 405.8,140.2 415.2,142.1 426.5,145.9 435.9,147.8 445.3,145.9 454.7,144.9 466.0,142.1 472.6,136.5 479.2,138.4 482.9,142.1 486.7,140.2 490.5,135.5 499.9,132.7 509.3,129.9 518.7,127.1 528.0,128.0 536.0,129.0 538.0,132.0 546.0,134.0 558.0,135.0 566.0,136.0 572.0,138.0 580.0,139.0 586.0,137.0 592.0,137.0 604.0,138.0 616.0,140.0 626.0,142.0 634.0,143.0 644.0,142.0 652.0,144.0 660.0,145.0 668.0,149.0 675.3,153.5 684.7,159.4 676.5,164.1 670.6,164.7 665.9,166.5 670.6,170.6 673.5,174.7 675.3,180.6 675.3,187.6 670.6,181.8 664.7,176.5 659.4,171.8 657.6,164.1 651.8,161.8 647.1,165.3 638.8,167.6 627.0,168.8 624.7,174.7 627.0,179.4 637.6,181.8 643.5,188.8 645.8,195.0 645.8,203.3 642.5,206.7 637.5,208.3 636.7,210.0 635.8,203.3 637.5,198.3 635.0,195.0 630.0,193.3 620.0,190.0 610.0,183.3 599.8,180.8 595.2,190.0 579.9,191.5 567.7,188.4 558.5,186.9 540.1,190.0 538.8,191.9 533.2,189.8 527.5,188.4 521.9,186.9 519.1,184.1 512.0,179.2 507.8,180.6 502.1,179.2 496.5,176.4 488.0,178.5 482.4,180.6 483.8,184.1 480.9,187.6 473.9,186.9 469.6,185.5 461.2,186.2 457.6,189.8 457.6,192.6 460.0,197.0 461.3,203.0 464.0,209.7 468.0,216.3 466.7,221.7 470.7,222.3 477.3,223.0 482.4,219.6 489.4,221.5 496.5,223.6 496.0,228.5 496.8,235.3 498.3,239.7 500.2,243.2 502.0,249.5 501.7,254.3 497.3,252.3 490.7,249.7 484.0,247.0 477.3,242.3 470.7,241.7 476.0,245.7 482.7,251.0 486.7,252.3 489.3,256.3 494.7,260.3 497.3,261.7 496.7,264.3 493.3,269.7 489.3,273.7 486.0,276.5 483.8,276.2 475.3,280.9 465.9,285.0 461.8,283.2 461.2,276.8 454.7,275.0 452.0,269.7 446.7,259.0 440.0,249.7 442.5,244.5 441.5,241.0 440.6,239.0 440.0,233.7 440.7,229.7 441.3,228.3 440.0,226.0 437.6,224.7 431.8,224.1 427.1,224.7 422.4,222.3 421.2,218.8 422.4,215.3 420.0,212.9 416.5,217.7 414.1,220.0 414.1,223.5 411.8,225.9 409.4,223.5 407.1,218.8 404.7,215.3 404.1,212.9 402.4,209.4 398.8,205.9 395.3,202.3 391.8,198.8 389.4,197.1 388.2,200.0 389.4,203.5 392.9,208.2 397.6,212.9 401.2,216.5 399.4,217.4 397.1,215.9 395.3,220.0 393.5,221.2 391.8,217.7 389.4,214.1 386.5,210.6 383.5,207.1 380.6,204.1 380.0,202.3 377.6,202.9 375.3,204.7 371.8,205.9 368.2,208.2 364.7,210.6 361.8,214.1 362.4,218.8 358.8,222.9 354.1,225.3 349.4,224.7 345.3,222.3 342.9,218.8 343.5,211.8 344.1,207.7 347.1,206.5 354.1,206.5 358.8,207.1 359.4,204.7 360.6,200.0 361.2,195.3 354.1,191.8 355.9,192.9 359.1,191.9 363.3,190.8 366.5,188.7 369.6,186.6 371.8,183.4 377.1,182.3 380.2,180.2 379.2,177.1 380.2,173.9 383.4,174.9 385.5,178.1 389.0,179.0 392.7,178.2 397.2,179.0 401.7,179.0 404.0,177.5 404.7,175.2 403.2,173.0 404.0,170.7 405.5,168.5 408.5,167.7 413.0,167.0 414.5,165.5 411.5,165.5 407.7,164.7 404.7,163.2 401.7,161.0 401.0,158.7 401.7,155.7 404.7,153.1 402.5,152.0 401.7,152.4 400.2,154.2 398.0,156.5 395.7,158.7 396.5,161.0 397.2,164.0 395.7,165.5 395.7,168.5 395.0,171.5 392.0,173.7 389.0,175.2 387.0,176.3 385.5,176.0 384.5,170.7 380.2,167.5 376.0,168.6Z" fill="url(#hatch)" stroke="url(#hatch)" stroke-width="1.6"/>
<path d="M352.2,169.7 355.9,169.1 358.5,171.8 358.0,174.9 361.2,178.1 364.4,182.3 366.5,185.5 364.4,187.7 359.1,188.7 353.8,189.8 355.9,186.6 354.3,182.3 352.7,179.2 351.6,174.9Z" fill="url(#hatch)" stroke="url(#hatch)" stroke-width="1.6"/>
<path d="M344.2,182.3 347.4,178.1 350.6,177.6 351.6,181.3 349.5,184.5 345.3,185.5Z" fill="url(#hatch)" stroke="url(#hatch)" stroke-width="1.6"/>
<path d="M381.2,208.2 382.9,208.2 382.9,217.7 381.2,217.7Z" fill="url(#hatch)" stroke="url(#hatch)" stroke-width="1.6"/>
<path d="M381.8,204.1 382.9,204.1 382.6,207.7 381.8,207.3Z" fill="url(#hatch)" stroke="url(#hatch)" stroke-width="1.6"/>
<path d="M389.4,220.0 394.1,219.4 392.9,222.9Z" fill="url(#hatch)" stroke="url(#hatch)" stroke-width="1.6"/>
<path d="M412.9,227.1 420.0,227.3 419.4,228.2 412.9,228.0Z" fill="url(#hatch)" stroke="url(#hatch)" stroke-width="1.6"/>
<path d="M436.0,228.0 440.5,227.5 439.0,229.5Z" fill="url(#hatch)" stroke="url(#hatch)" stroke-width="1.6"/>
<path d="M655.8,202.5 660.0,203.3 665.0,205.8 663.3,210.0 660.0,208.3 656.7,206.7Z" fill="url(#hatch)" stroke="url(#hatch)" stroke-width="1.6"/>
<path d="M660.0,209.2 663.3,213.3 665.8,218.3 668.0,223.3 667.5,226.7 663.3,228.3 658.3,230.0 653.3,232.5 650.0,235.8 647.5,233.3 651.7,229.2 656.7,225.8 661.7,223.3 662.5,218.3 660.0,213.3 657.5,209.2Z" fill="url(#hatch)" stroke="url(#hatch)" stroke-width="1.6"/>
<path d="M648.0,234.2 650.8,235.8 651.7,239.2 648.7,239.2 647.2,237.0Z" fill="url(#hatch)" stroke="url(#hatch)" stroke-width="1.6"/>
<path d="M653.5,233.5 657.5,233.0 657.0,235.0 654.0,235.5Z" fill="url(#hatch)" stroke="url(#hatch)" stroke-width="1.6"/>
<path d="M630.0,213.3 636.7,210.0 637.5,213.3 640.0,220.0 643.3,226.7 641.7,230.0 636.7,228.3 633.3,221.7 628.3,218.3Z" fill="url(#hatch)" stroke="url(#hatch)" stroke-width="1.6"/>
<path d="M639.7,179.2 641.7,180.0 645.8,185.8 650.8,192.5 654.2,198.3 652.5,198.7 649.2,193.3 644.2,186.7 640.3,181.7Z" fill="url(#hatch)" stroke="url(#hatch)" stroke-width="1.6"/>
<path d="M634.2,255.0 636.7,254.2 635.8,260.8 633.3,259.2Z" fill="url(#hatch)" stroke="url(#hatch)" stroke-width="1.6"/>
<path d="M592.7,304.8 595.9,304.4 599.1,306.9 601.2,315.4 596.9,316.5 594.8,311.2Z" fill="url(#hatch)" stroke="url(#hatch)" stroke-width="1.6"/>
<path d="M618.1,315.4 624.5,310.1 630.8,304.8 636.1,302.7 637.2,306.9 634.0,309.1 628.7,311.2 622.4,315.4Z" fill="url(#hatch)" stroke="url(#hatch)" stroke-width="1.6"/>
<path d="M614.7,409.7 615.6,400.0 617.4,389.4 618.2,381.5 622.6,376.2 631.5,372.6 637.6,369.1 642.9,363.8 649.1,357.6 653.5,356.8 657.9,357.6 661.5,353.2 665.9,349.7 670.3,351.5 675.6,352.4 673.8,357.6 677.4,361.2 682.6,365.6 685.3,358.5 687.9,350.6 690.6,348.8 692.4,354.1 695.0,364.7 700.3,373.5 704.7,382.4 705.6,391.2 702.1,400.0 696.8,408.8 689.7,415.9 682.6,419.4 675.6,421.2 668.5,420.3 665.0,415.9 661.5,409.7 657.9,407.1 652.6,402.6 645.6,402.6 636.8,404.4 629.7,405.3 622.6,408.8 617.4,411.5Z" fill="url(#hatch)" stroke="url(#hatch)" stroke-width="1.6"/>
<path d="M668.5,427.4 675.6,426.5 674.7,430.0 670.3,433.5 667.6,431.8Z" fill="url(#hatch)" stroke="url(#hatch)" stroke-width="1.6"/>
<path d="M739.1,410.6 741.8,415.9 746.2,418.5 740.9,422.9 735.6,427.4 732.9,426.5 736.5,421.2 739.1,415.9Z" fill="url(#hatch)" stroke="url(#hatch)" stroke-width="1.6"/>
<path d="M729.4,426.5 732.1,428.2 726.8,433.5 719.7,437.9 710.9,441.5 705.6,440.6 710.9,436.2 719.7,431.8 726.8,428.2Z" fill="url(#hatch)" stroke="url(#hatch)" stroke-width="1.6"/>
<path d="M734.2,372.6 735.2,372.4 740.0,378.0 739.2,378.8Z" fill="url(#hatch)" stroke="url(#hatch)" stroke-width="1.6"/>
<path d="M538.8,191.9 536.0,195.4 533.9,200.4 530.4,203.9 526.1,212.4 523.3,213.8 523.3,218.0 524.2,222.8 529.0,226.3 530.8,229.3 533.5,230.0 536.5,235.3 541.0,240.5 544.0,240.5 550.0,243.5 556.0,245.8 562.0,247.3 567.2,246.5 571.0,245.0 576.2,244.3 580.0,246.5 583.3,253.3 586.7,260.0 590.8,264.2 595.0,260.8 600.0,260.0 605.0,263.3 607.5,263.3 610.0,264.2 613.3,265.0 617.5,262.5 623.3,260.0 628.3,256.7 631.7,251.7 633.3,246.7 632.5,241.7 630.0,236.7 625.0,231.7 621.7,227.5 626.7,223.3 623.3,221.7 615.0,220.0 615.0,218.3 621.7,215.0 630.0,213.3 636.7,210.0 637.5,208.3 635.8,203.3 637.5,198.3 635.0,195.0 630.0,193.3 620.0,190.0 610.0,183.3 599.8,180.8 595.2,190.0 579.9,191.5 567.7,188.4 558.5,186.9 540.1,190.0Z" fill="#fff5f0" stroke="#fff5f0" stroke-width="1.6"/>
<path d="M539.0,192.0 546.0,189.0 558.0,186.0 568.0,189.0 578.0,190.0 590.0,190.0 597.0,191.0 599.0,195.0 607.0,197.0 596.0,202.0 594.0,207.0 584.0,211.0 576.0,210.0 564.0,207.0 554.0,203.0 548.0,196.0Z" fill="#fff5f0" stroke="#fff5f0" stroke-width="1.6"/>
<path d="M457.6,189.8 461.2,186.2 469.6,185.5 473.9,186.9 480.9,187.7 483.8,184.1 482.4,180.6 488.0,178.5 496.5,176.3 502.1,179.2 507.8,180.6 512.0,179.2 519.1,184.1 521.9,186.9 527.5,188.3 533.2,189.8 538.8,191.9 536.0,195.4 533.9,200.3 530.4,203.9 524.7,207.4 517.6,208.1 513.4,210.9 507.8,208.1 502.1,207.4 496.5,205.3 488.0,202.5 482.4,201.8 479.5,203.9 480.9,210.9 475.3,210.9 472.5,208.1 471.8,203.9 468.2,201.1 462.6,198.2 459.8,195.4 457.6,192.6Z" fill="#fff5f0" stroke="#fff5f0" stroke-width="1.6"/>
<path d="M479.5,202.5 482.4,201.8 488.0,202.5 496.5,205.3 502.1,207.4 507.8,208.8 512.0,211.7 516.2,210.9 519.1,212.3 513.4,215.2 509.2,217.3 507.1,221.5 502.1,219.4 496.5,215.2 489.4,212.3 483.8,210.9 480.9,210.9Z" fill="#fff5f0" stroke="#fff5f0" stroke-width="1.6"/>
<path d="M472.5,208.1 475.3,210.9 480.9,210.9 483.8,210.9 489.4,212.3 496.5,215.2 502.1,218.7 507.1,220.5 506.4,222.5 502.1,225.1 496.5,224.3 489.4,221.5 482.4,219.4 476.7,218.7 473.9,215.2Z" fill="#fff5f0" stroke="#fff5f0" stroke-width="1.6"/>
<path d="M513.4,210.9 517.6,208.1 524.7,207.4 530.4,207.4 526.1,212.3 523.3,213.8 519.1,212.3 516.2,210.9Z" fill="#fff5f0" stroke="#fff5f0" stroke-width="1.6"/>
<path d="M507.8,212.3 513.4,210.9 519.1,212.3 523.3,213.8 524.0,218.7 519.8,221.9 514.8,221.1 509.2,221.7 506.4,220.8Z" fill="#fff5f0" stroke="#fff5f0" stroke-width="1.6"/>
<path d="M495.8,227.9 502.1,223.7 506.4,221.5 510.6,219.7 514.8,219.1 516.9,221.5 517.6,223.4 519.8,222.5 524.0,222.2 520.5,225.3 518.2,227.0 517.5,232.2 512.8,237.5 509.2,240.5 505.8,242.8 500.2,243.2 498.2,239.8 496.8,235.2 496.0,228.8Z" fill="#a50f15" stroke="#a50f15" stroke-width="1.6"/>
<path d="M524.2,222.8 529.0,226.2 530.8,229.2 526.8,230.8 526.0,237.5 522.2,244.2 518.5,248.8 522.2,254.8 516.2,256.2 514.0,257.8 510.2,253.2 501.7,254.3 502.0,249.5 501.2,245.0 505.8,242.8 509.2,240.5 512.8,237.5 517.5,232.2 518.2,227.0Z" fill="#fc9272" stroke="#fc9272" stroke-width="1.6"/>
<path d="M526.8,230.8 530.8,229.2 533.5,230.0 536.5,235.2 541.0,240.5 543.2,244.2 548.5,246.5 554.5,250.2 560.5,251.0 561.2,247.2 567.2,246.8 571.0,245.0 576.2,244.2 580.0,246.5 576.2,252.5 573.2,255.5 572.2,260.0 569.5,259.2 568.0,254.8 565.8,254.0 564.2,251.8 560.5,251.8 561.2,257.0 563.5,260.0 560.5,261.5 556.0,264.5 553.0,267.5 549.2,270.5 547.0,278.0 544.0,287.0 542.5,293.0 541.8,298.2 539.5,296.0 536.5,288.5 532.8,281.0 530.5,273.5 528.2,267.5 526.0,262.2 522.2,260.0 519.2,259.2 517.0,257.8 514.0,257.8 516.2,256.2 522.2,254.8 518.5,248.8 522.2,244.2 526.0,237.5Z" fill="#fee0d2" stroke="#fee0d2" stroke-width="1.6"/>
<path d="M541.8,241.2 544.0,240.5 550.0,243.5 556.0,245.8 561.2,247.2 560.5,251.0 554.5,250.2 548.5,246.8 543.2,244.2Z" fill="#fee0d2" stroke="#fee0d2" stroke-width="1.6"/>
<path d="M562.0,247.2 567.2,246.5 567.7,249.2 562.8,249.8Z" fill="#fff5f0" stroke="#fff5f0" stroke-width="1.6"/>
<path d="M560.5,251.8 564.2,251.8 565.8,254.0 568.0,254.8 569.5,259.2 566.5,261.5 563.5,260.0 561.2,257.0Z" fill="#fee0d2" stroke="#fee0d2" stroke-width="1.6"/>
<path d="M546.2,294.5 548.5,293.8 551.5,299.0 550.0,303.5 547.0,302.0Z" fill="#fff5f0" stroke="#fff5f0" stroke-width="1.6"/>
<path d="M573.3,246.7 579.2,246.7 583.3,253.3 586.7,260.0 590.8,264.2 589.2,268.3 586.7,270.0 585.0,275.0 585.8,278.3 588.3,283.3 590.0,288.3 590.8,293.3 588.3,290.0 585.8,282.5 583.3,277.5 578.3,278.3 576.7,271.7 573.3,266.7 572.5,261.7 574.2,255.0Z" fill="#fc9272" stroke="#fc9272" stroke-width="1.6"/>
<path d="M590.8,264.2 593.0,262.5 595.0,261.0 598.0,261.5 598.5,265.5 597.5,269.0 600.5,271.5 603.5,275.0 606.0,279.0 608.0,282.5 605.5,284.0 603.5,281.5 601.0,278.0 597.0,274.0 593.0,273.0 592.0,269.0Z" fill="#fee0d2" stroke="#fee0d2" stroke-width="1.6"/>
<path d="M589.0,265.0 591.0,264.0 592.0,269.0 593.0,273.0 597.0,274.0 601.0,278.0 603.5,281.5 603.0,282.5 598.0,284.0 598.0,289.0 596.0,288.5 594.0,288.0 592.0,290.0 591.0,293.0 590.0,297.0 591.0,300.0 593.0,302.0 595.0,304.0 594.0,305.0 591.0,302.0 589.0,299.0 588.5,294.0 589.5,290.0 587.0,284.0 585.0,277.0 585.5,272.0 587.0,268.0Z" fill="#fff5f0" stroke="#fff5f0" stroke-width="1.6"/>
<path d="M598.0,284.0 603.0,282.5 605.5,284.0 608.0,283.0 610.0,286.0 609.0,290.0 605.0,292.0 601.0,292.5 598.0,289.0Z" fill="#fcbba1" stroke="#fcbba1" stroke-width="1.6"/>
<path d="M598.5,265.5 598.0,261.5 600.0,260.3 605.0,263.2 607.5,263.3 605.0,268.0 604.0,271.0 607.0,275.0 610.0,279.0 612.0,283.0 613.0,287.0 612.0,291.0 609.0,294.0 606.0,297.0 604.0,296.0 605.0,293.0 608.5,290.0 609.0,286.0 608.0,283.0 608.0,282.5 606.0,279.0 603.5,275.0 600.5,271.5 597.5,269.0Z" fill="#fff5f0" stroke="#fff5f0" stroke-width="1.6"/>
<path d="M609.2,268.3 613.3,267.5 614.2,270.8 610.8,272.0Z" fill="#fff5f0" stroke="#fff5f0" stroke-width="1.6"/>
<path d="M636.7,271.7 640.8,272.5 642.5,276.7 641.7,281.7 643.3,286.7 640.0,285.8 638.3,280.0 637.0,275.8Z" fill="#fff5f0" stroke="#fff5f0" stroke-width="1.6"/>
<path d="M643.3,293.3 650.0,294.2 654.2,298.3 653.3,305.0 648.3,304.2 644.2,301.7 645.0,297.5Z" fill="#fff5f0" stroke="#fff5f0" stroke-width="1.6"/>
<path d="M641.7,288.3 648.3,290.0 650.0,293.3 644.2,293.3Z" fill="#fff5f0" stroke="#fff5f0" stroke-width="1.6"/>
<path d="M632.0,298.3 636.7,291.7 637.5,292.5 633.0,299.2Z" fill="#fff5f0" stroke="#fff5f0" stroke-width="1.6"/>
<path d="M582.5,305.9 588.5,306.9 594.8,313.3 601.2,321.8 606.5,328.1 607.5,334.5 604.4,335.5 599.1,329.2 592.7,321.8 586.4,313.3Z" fill="#fff5f0" stroke="#fff5f0" stroke-width="1.6"/>
<path d="M605.4,335.5 613.9,337.6 622.4,339.8 627.6,341.9 622.4,342.9 613.9,340.8 606.5,338.7Z" fill="#fff5f0" stroke="#fff5f0" stroke-width="1.6"/>
<path d="M614.9,316.5 622.4,315.4 628.7,311.2 634.0,309.1 636.1,315.4 635.1,321.8 631.9,328.1 624.5,330.2 618.1,328.1 614.9,321.8Z" fill="#fff5f0" stroke="#fff5f0" stroke-width="1.6"/>
<path d="M637.2,319.6 643.5,317.5 650.9,316.5 645.6,320.7 642.5,323.9 647.8,329.2 644.6,334.5 641.4,330.2 639.3,334.5 637.2,328.1Z" fill="#fff5f0" stroke="#fff5f0" stroke-width="1.6"/>
<path d="M664.1,322.8 668.2,321.2 672.4,322.4 673.2,325.7 676.5,327.4 679.8,324.9 683.9,325.3 688.0,326.9 687.2,343.8 683.9,342.2 680.6,341.4 679.8,339.7 680.6,337.2 678.1,333.9 674.8,331.5 670.7,329.8 669.1,327.4 665.8,324.1Z" fill="#fff5f0" stroke="#fff5f0" stroke-width="1.6"/>
<path d="M631.0,343.2 633.0,341.6 636.8,342.2 635.5,343.8 632.0,343.9Z" fill="#fff5f0" stroke="#fff5f0" stroke-width="1.6"/>
<path d="M638.2,342.6 641.0,341.6 645.8,341.0 645.0,342.4 641.0,343.2 638.5,343.4Z" fill="#fff5f0" stroke="#fff5f0" stroke-width="1.6"/>
<path d="M636.4,345.0 638.5,344.5 640.7,346.3 639.0,347.0 637.0,346.2Z" fill="#fff5f0" stroke="#fff5f0" stroke-width="1.6"/>
<path d="M656.2,315.4 659.4,315.0 660.5,321.8 657.3,321.3Z" fill="#fff5f0" stroke="#fff5f0" stroke-width="1.6"/>
<path d="M656.0,327.4 661.0,326.8 665.0,327.8 661.0,329.2 657.0,328.8Z" fill="#fff5f0" stroke="#fff5f0" stroke-width="1.6"/>
<path d="M653.0,328.5 655.5,328.2 655.8,329.8 653.3,330.0Z" fill="#fff5f0" stroke="#fff5f0" stroke-width="1.6"/>
<path d="M671.2,333.5 672.5,333.4 673.0,337.5 671.6,337.6Z" fill="#fff5f0" stroke="#fff5f0" stroke-width="1.6"/>
<path d="M646.5,346.5 648.0,344.5 649.8,343.2 650.5,344.3 648.5,346.3 647.0,347.0Z" fill="#fff5f0" stroke="#fff5f0" stroke-width="1.6"/>
<path d="M649.8,343.2 652.5,342.3 655.7,341.8 655.0,343.0 652.0,344.0 650.5,344.3Z" fill="#ef3b2c" stroke="#ef3b2c" stroke-width="1.6"/>
<path d="M688.0,326.9 692.9,329.0 697.9,331.5 700.4,334.0 702.8,336.8 701.2,338.1 702.8,341.4 706.1,344.7 709.0,347.5 706.1,347.1 702.0,345.5 699.5,342.2 696.2,340.5 692.9,342.2 691.3,343.8 687.2,343.8Z" fill="#ef3b2c" stroke="#ef3b2c" stroke-width="1.6"/>
<path d="M704.5,334.8 707.8,336.0 711.1,334.8 713.5,332.3 714.4,331.1 712.7,331.9 710.2,333.5 707.8,334.4 705.0,334.2Z" fill="#ef3b2c" stroke="#ef3b2c" stroke-width="1.6"/>
<path d="M710.7,326.9 713.5,328.6 716.0,331.5 715.2,332.3 713.1,329.8 710.2,327.8Z" fill="#ef3b2c" stroke="#ef3b2c" stroke-width="1.6"/>
<path d="M743.0,358.2 744.2,358.4 745.3,363.2 744.3,363.5Z" fill="#fff5f0" stroke="#fff5f0" stroke-width="1.6"/>
<path d="M766.0,366.5 768.5,364.5 769.5,366.5 767.0,368.2Z" fill="#fff5f0" stroke="#fff5f0" stroke-width="1.6"/>
<path d="M770.0,364.0 773.8,361.8 774.2,362.8 770.5,365.0Z" fill="#fff5f0" stroke="#fff5f0" stroke-width="1.6"/>
<path d="M722.4,337.6 726.0,339.5 728.0,341.5 724.0,340.0Z" fill="url(#hatch)" stroke="url(#hatch)" stroke-width="1.6"/>
<path d="M728.5,341.8 731.0,343.5 731.5,345.0 729.0,343.5Z" fill="url(#hatch)" stroke="url(#hatch)" stroke-width="1.6"/>
<path d="M731.0,345.5 734.5,347.2 735.3,348.2 732.0,347.0Z" fill="url(#hatch)" stroke="url(#hatch)" stroke-width="1.6"/>
<path d="M718.9,333.5 721.4,337.2 720.5,337.7 718.6,334.4Z" fill="#ef3b2c" stroke="#ef3b2c" stroke-width="1.6"/>
<path d="M446.7,206.3 454.7,207.7 460.0,209.7 461.3,211.7 456.0,212.3 450.7,211.0Z" fill="#fff5f0" stroke="#fff5f0" stroke-width="1.6"/>
<path d="M456.0,212.3 461.3,211.7 462.7,215.0 461.3,218.3 458.0,216.3Z" fill="#fff5f0" stroke="#fff5f0" stroke-width="1.6"/>
<path d="M460.0,209.7 464.0,210.3 467.3,213.7 468.0,219.0 465.3,220.3 462.7,217.7 461.3,218.3 462.7,215.0 461.3,211.7Z" fill="#fff5f0" stroke="#fff5f0" stroke-width="1.6"/>
<path d="M402.4,200.6 404.7,200.0 408.2,203.5 410.6,207.1 411.2,211.2 409.4,212.9 407.6,213.5 405.9,216.5 404.1,215.3 403.5,211.8 402.4,208.8 403.5,205.9 402.9,202.9Z" fill="#fff5f0" stroke="#fff5f0" stroke-width="1.6"/>
<path d="M378.5,123.3 386.9,121.4 401.1,122.4 396.4,124.2 398.2,126.1 392.6,127.1 386.9,127.1 381.3,126.1Z" fill="url(#hatch)" stroke="url(#hatch)" stroke-width="1.6"/>
<path d="M426.5,120.5 435.9,120.5 432.1,121.8Z" fill="url(#hatch)" stroke="url(#hatch)" stroke-width="1.6"/>
<path d="M464.1,128.9 456.6,129.9 450.0,132.7 447.2,136.5 449.1,140.2 456.6,141.2 452.8,138.4 451.9,135.5 456.6,131.8 466.9,128.9Z" fill="url(#hatch)" stroke="url(#hatch)" stroke-width="1.6"/>
<path d="M493.3,120.5 501.8,120.5 509.3,123.3 505.5,125.2 498.0,124.2Z" fill="url(#hatch)" stroke="url(#hatch)" stroke-width="1.6"/>
<path d="M510.2,124.2 518.7,126.1 515.9,127.1Z" fill="url(#hatch)" stroke="url(#hatch)" stroke-width="1.6"/>
<path d="M574.0,130.0 582.0,130.0 580.0,132.0 575.0,132.0Z" fill="url(#hatch)" stroke="url(#hatch)" stroke-width="1.6"/>
<path d="M588.0,131.0 596.0,132.0 590.0,132.5Z" fill="url(#hatch)" stroke="url(#hatch)" stroke-width="1.6"/>
<path d="M654.0,138.5 658.0,138.5 657.0,139.5Z" fill="url(#hatch)" stroke="url(#hatch)" stroke-width="1.6"/>
<path d="M350.3,226.8 353.8,227.0 358.8,228.2 359.5,231.5 360.6,235.6 356.2,237.3 350.3,241.1 344.4,243.8 343.2,246.2 335.0,247.3 336.8,245.0 341.1,239.7 341.8,235.6 345.8,231.7Z" fill="#fff5f0" stroke="#fff5f0" stroke-width="1.6"/>
<path d="M335.0,247.3 343.2,246.5 343.2,249.1 336.4,252.4 335.9,258.8 333.8,260.3 333.8,263.8 325.0,264.2 327.9,257.4 332.6,250.3Z" fill="url(#hatch)" stroke="url(#hatch)" stroke-width="1.6"/>
<path d="M358.8,228.2 366.8,225.6 373.8,224.4 380.3,223.8 379.7,231.5 384.4,239.1 383.2,252.7 389.1,259.1 370.3,269.4 349.4,255.0 343.2,249.1 343.2,246.5 344.4,243.8 350.3,241.1 356.2,237.3 360.6,235.6 359.5,231.5Z" fill="#fff5f0" stroke="#fff5f0" stroke-width="1.6"/>
<path d="M380.3,223.8 385.6,223.0 387.0,226.2 385.6,230.3 388.5,234.4 384.4,239.7 382.6,233.8 379.7,231.5Z" fill="#fff5f0" stroke="#fff5f0" stroke-width="1.6"/>
<path d="M388.5,234.4 397.4,236.2 405.6,239.9 407.9,236.4 415.0,235.2 407.1,235.6 410.6,235.0 414.1,236.2 417.6,237.9 418.8,267.9 416.5,268.9 400.0,259.7 396.2,260.6 389.1,259.1 383.2,252.7 384.4,239.7Z" fill="#fff5f0" stroke="#fff5f0" stroke-width="1.6"/>
<path d="M417.6,237.9 427.1,238.5 430.8,239.7 435.3,238.5 440.6,239.1 441.8,243.8 438.8,243.0 435.3,242.3 440.0,250.3 446.5,262.6 446.5,263.0 418.8,263.0Z" fill="#fff5f0" stroke="#fff5f0" stroke-width="1.6"/>
<path d="M325.0,264.2 333.8,263.8 333.8,260.3 335.9,258.8 336.4,252.4 343.2,249.1 349.4,255.0 350.5,279.1 335.9,280.4 334.5,279.4 330.2,277.2 326.9,276.9 325.1,277.5 325.6,270.3Z" fill="#cb181d" stroke="#cb181d" stroke-width="1.6"/>
<path d="M349.4,255.0 370.3,269.4 372.6,270.0 372.1,279.1 364.1,281.5 359.4,281.9 352.8,285.1 351.1,290.2 350.5,293.2 343.9,293.2 343.4,290.2 342.0,288.5 339.6,289.5 336.8,288.5 335.9,280.4 350.5,279.1Z" fill="#a50f15" stroke="#a50f15" stroke-width="1.6"/>
<path d="M370.3,269.4 389.1,259.1 396.2,260.6 397.4,270.3 396.1,273.3 396.1,285.5 391.4,285.1 383.9,285.7 374.5,285.1 371.2,289.3 367.9,287.9 365.1,285.5 364.1,281.5 372.1,279.1 372.6,270.0Z" fill="#67000d" stroke="#67000d" stroke-width="1.6"/>
<path d="M323.2,281.3 325.1,277.5 326.9,276.9 330.2,277.2 334.5,279.4 335.9,280.4 336.4,287.2 332.1,287.6 327.4,287.6 325.1,286.9 323.6,284.6Z" fill="#fb6a4a" stroke="#fb6a4a" stroke-width="1.6"/>
<path d="M324.1,284.4 331.2,284.0 331.6,285.5 324.6,285.9Z" fill="#fcbba1" stroke="#fcbba1" stroke-width="1.6"/>
<path d="M324.6,287.2 327.4,287.6 329.3,288.4 328.8,290.1 326.5,290.2 325.1,288.8Z" fill="#cb181d" stroke="#cb181d" stroke-width="1.6"/>
<path d="M329.3,288.4 332.1,287.6 336.4,287.2 336.8,288.5 339.6,289.5 342.0,288.5 343.4,290.2 343.9,293.2 344.2,299.2 342.7,299.6 341.1,297.6 338.9,297.0 338.2,294.5 336.4,293.8 334.2,294.5 332.9,295.7 331.2,293.5 329.1,292.1 328.8,290.1Z" fill="#a50f15" stroke="#a50f15" stroke-width="1.6"/>
<path d="M332.9,295.7 334.2,294.5 336.4,293.8 338.2,294.5 338.7,297.0 337.8,299.6 336.4,301.5 334.0,299.6 332.9,297.8Z" fill="#ef3b2c" stroke="#ef3b2c" stroke-width="1.6"/>
<path d="M337.8,299.6 338.9,297.0 341.1,297.6 342.7,299.6 344.2,299.2 344.8,302.5 345.8,308.6 342.5,307.2 338.7,303.4 336.4,301.5Z" fill="#ef3b2c" stroke="#ef3b2c" stroke-width="1.6"/>
<path d="M343.9,293.5 350.9,293.1 352.8,294.5 356.1,293.5 356.4,297.8 356.1,303.4 356.6,307.2 351.9,306.7 345.8,308.6 344.8,302.5 344.2,299.2Z" fill="#fb6a4a" stroke="#fb6a4a" stroke-width="1.6"/>
<path d="M356.1,291.9 363.2,291.6 364.1,293.1 363.6,298.7 364.1,304.4 359.4,307.6 356.6,307.2 356.1,303.4 356.4,297.8 356.1,293.5Z" fill="#fcbba1" stroke="#fcbba1" stroke-width="1.6"/>
<path d="M363.2,291.6 365.5,291.9 366.0,294.0 366.5,303.4 364.6,304.4 364.1,293.1Z" fill="#fcbba1" stroke="#fcbba1" stroke-width="1.6"/>
<path d="M365.5,291.9 367.9,289.3 370.2,288.8 371.2,291.2 369.3,294.9 369.8,303.4 366.9,303.9 366.5,303.4 366.0,294.0Z" fill="#ef3b2c" stroke="#ef3b2c" stroke-width="1.6"/>
<path d="M351.1,290.2 352.8,285.1 359.4,281.9 364.1,281.5 365.1,285.5 367.9,287.9 367.9,289.3 365.5,291.9 363.2,291.6 356.1,291.9 356.1,293.5 352.8,294.5 350.9,293.1 350.5,293.2Z" fill="#cb181d" stroke="#cb181d" stroke-width="1.6"/>
<path d="M371.2,289.3 374.5,285.1 383.9,285.7 391.4,285.1 395.0,285.4 395.0,286.7 396.5,288.8 396.7,290.0 395.0,294.2 391.7,299.2 388.3,302.5 383.3,305.0 382.5,308.3 375.8,308.3 373.3,305.0 370.0,303.8 369.8,303.4 369.3,294.9Z" fill="#fc9272" stroke="#fc9272" stroke-width="1.6"/>
<path d="M396.2,260.6 415.0,266.8 400.0,259.7 416.5,268.9 416.8,279.4 414.5,282.7 414.9,288.4 414.5,291.2 406.5,296.8 398.3,300.8 398.5,295.0 397.5,294.2 396.5,288.8 395.0,286.7 394.2,284.2 395.0,278.3 398.3,270.0 397.4,270.3Z" fill="#67000d" stroke="#67000d" stroke-width="1.6"/>
<path d="M395.0,286.7 396.5,288.8 397.5,294.2 398.5,295.0 398.3,300.8 397.5,303.3 398.8,306.7 399.6,309.2 399.2,314.0 395.8,315.8 392.5,315.4 388.8,315.0 384.6,314.8 385.0,314.2 384.0,311.7 383.3,308.3 382.5,308.3 383.3,305.0 388.3,302.5 391.7,299.2 395.0,294.2 396.5,290.0Z" fill="#fb6a4a" stroke="#fb6a4a" stroke-width="1.6"/>
<path d="M398.0,300.6 406.5,296.8 414.5,291.2 416.8,293.1 418.2,296.8 422.5,302.5 425.3,305.9 420.6,307.6 414.7,307.1 405.0,309.2 405.0,310.2 402.9,311.2 400.4,312.5 399.3,311.5 396.7,305.0 399.2,309.2 398.8,306.7 397.5,303.3 398.3,300.8Z" fill="#67000d" stroke="#67000d" stroke-width="1.6"/>
<path d="M418.8,262.9 446.0,262.9 447.4,265.8 449.6,273.3 446.9,276.1 446.5,281.8 445.5,284.2 444.1,290.8 442.1,294.0 439.9,293.5 439.4,291.2 438.0,288.8 436.6,290.7 433.8,293.1 430.0,294.5 426.2,295.4 423.4,294.5 419.6,294.0 418.2,296.8 416.8,293.1 414.5,291.2 414.9,288.4 414.5,282.7 416.8,279.4 416.4,268.9 418.8,267.6Z" fill="#ef3b2c" stroke="#ef3b2c" stroke-width="1.6"/>
<path d="M418.2,296.8 419.6,294.0 423.4,294.5 426.2,295.4 430.0,294.5 433.8,293.1 436.6,290.7 438.0,288.8 439.4,291.2 439.9,293.5 441.3,294.0 440.8,297.8 439.4,299.6 442.2,303.4 444.1,306.2 443.2,309.1 437.5,310.0 433.8,310.9 429.1,308.1 424.8,306.2 422.5,302.5Z" fill="url(#hatch)" stroke="url(#hatch)" stroke-width="1.6"/>
<path d="M449.6,273.3 452.6,276.1 456.4,280.4 460.6,285.1 458.7,285.6 455.9,283.3 451.2,282.4 445.5,284.2 446.5,281.8 446.9,276.1Z" fill="url(#hatch)" stroke="url(#hatch)" stroke-width="1.6"/>
<path d="M445.5,284.2 451.2,282.4 455.9,283.3 458.7,285.6 459.9,289.4 462.5,293.2 463.9,295.5 468.1,298.4 472.4,299.8 469.5,302.6 466.2,307.3 459.6,308.2 453.5,310.3 448.8,308.7 445.1,306.8 442.7,304.0 439.9,299.8 441.8,294.1 444.1,290.8Z" fill="#a50f15" stroke="#a50f15" stroke-width="1.6"/>
<path d="M459.9,289.4 462.5,290.4 465.8,290.8 470.5,289.9 479.9,288.9 479.4,293.2 478.0,298.8 474.2,306.4 470.5,312.0 465.8,317.6 458.2,324.2 458.2,311.1 466.2,307.3 469.5,302.6 472.4,299.8 468.1,298.4 463.9,295.5 462.5,293.2Z" fill="url(#hatch)" stroke="url(#hatch)" stroke-width="1.6"/>
<path d="M458.7,285.6 461.1,287.1 462.0,289.9 459.9,289.4Z" fill="url(#hatch)" stroke="url(#hatch)" stroke-width="1.6"/>
<path d="M442.7,306.8 445.1,306.8 448.8,308.7 453.5,310.3 459.6,308.2 458.2,311.1 458.2,324.2 456.4,327.1 454.0,331.8 449.8,328.5 441.8,322.8 442.2,315.8Z" fill="#fcbba1" stroke="#fcbba1" stroke-width="1.6"/>
<path d="M384.6,317.1 388.8,317.1 388.8,315.0 392.5,315.4 395.8,315.8 395.4,320.0 395.8,325.8 393.3,327.1 390.4,326.8 389.8,330.0 387.5,329.6 385.0,326.2 383.3,322.5 384.2,319.2Z" fill="#fff5f0" stroke="#fff5f0" stroke-width="1.6"/>
<path d="M384.6,314.8 388.8,314.8 388.8,317.1 384.6,317.1Z" fill="#fff5f0" stroke="#fff5f0" stroke-width="1.6"/>
<path d="M395.8,315.8 397.5,314.2 400.4,312.5 402.9,311.2 405.0,310.2 404.8,314.2 404.2,318.3 402.1,323.8 400.8,327.1 399.2,330.0 397.9,332.5 395.4,332.1 393.8,333.3 390.8,332.9 389.8,330.0 390.4,326.8 393.3,327.1 395.8,325.8 395.4,320.0Z" fill="#fcbba1" stroke="#fcbba1" stroke-width="1.6"/>
<path d="M405.0,309.2 409.2,307.9 415.8,308.8 421.7,306.7 426.7,306.2 430.0,307.5 432.4,310.0 433.5,311.8 431.8,320.0 430.6,328.2 430.6,335.3 432.4,340.6 428.2,341.8 428.8,347.1 429.4,352.9 425.3,350.6 421.8,349.4 418.2,349.4 417.1,347.1 414.7,346.5 413.5,340.0 408.3,339.2 402.9,340.0 400.8,335.8 392.5,335.4 391.2,334.2 393.8,333.3 395.4,332.1 397.9,332.5 399.2,330.0 400.8,327.1 402.1,323.8 404.2,318.3 404.8,314.2Z" fill="#cb181d" stroke="#cb181d" stroke-width="1.6"/>
<path d="M392.5,335.4 400.8,335.8 402.9,340.0 408.3,339.2 413.5,340.0 414.7,346.5 417.1,347.1 417.1,349.4 417.5,349.2 417.1,353.8 413.2,354.2 412.9,359.1 413.2,363.4 415.4,366.2 409.0,366.2 399.1,365.1 389.9,364.9 390.3,361.2 391.7,355.6 393.8,349.2 393.1,345.0 393.3,348.3 392.5,342.5 391.8,336.7Z" fill="#ef3b2c" stroke="#ef3b2c" stroke-width="1.6"/>
<path d="M432.4,310.0 440.6,310.6 442.4,311.8 441.8,317.6 441.2,322.9 435.9,323.5 431.8,324.1 431.8,320.0 433.5,311.8Z" fill="#ef3b2c" stroke="#ef3b2c" stroke-width="1.6"/>
<path d="M431.2,324.1 434.1,323.5 434.5,326.5 431.2,327.1Z" fill="#fb6a4a" stroke="#fb6a4a" stroke-width="1.6"/>
<path d="M430.6,327.1 433.5,327.1 432.9,330.6 430.9,331.8Z" fill="#67000d" stroke="#67000d" stroke-width="1.6"/>
<path d="M434.1,323.5 441.2,322.9 451.2,330.6 454.1,331.2 452.4,335.3 454.1,347.1 451.2,349.4 446.5,350.6 441.8,349.4 439.4,346.5 436.5,342.9 432.4,340.6 430.6,335.3 430.9,331.8 432.9,330.6 434.5,326.5Z" fill="#fb6a4a" stroke="#fb6a4a" stroke-width="1.6"/>
<path d="M428.2,341.8 432.4,340.6 436.5,342.9 439.0,344.5 438.0,350.0 439.0,354.0 440.0,357.5 438.5,358.0 432.5,359.5 430.9,361.1 425.9,364.1 421.7,366.5 418.9,365.5 415.4,366.2 413.2,363.4 412.9,359.1 413.2,354.2 417.1,353.8 417.5,349.2 418.2,349.4 421.8,349.4 425.3,350.6 429.4,352.9 428.8,347.1Z" fill="#fb6a4a" stroke="#fb6a4a" stroke-width="1.6"/>
<path d="M439.0,344.5 441.0,345.0 441.5,353.0 443.5,357.5 444.0,362.0 442.5,363.5 441.0,361.0 440.0,357.5 439.0,354.0 438.0,350.0Z" fill="#fb6a4a" stroke="#fb6a4a" stroke-width="1.6"/>
<path d="M442.0,351.0 448.0,350.0 455.0,348.0 456.0,358.0 454.0,362.0 448.0,367.0 442.5,372.0 442.0,377.0 443.5,382.0 437.0,386.0 435.0,390.0 434.0,379.0 436.0,377.0 438.0,370.0 437.0,363.0 432.5,360.0 432.2,359.0 438.5,358.0 440.0,357.5 442.5,363.0 444.0,362.0 443.5,357.5 441.5,353.0Z" fill="#cb181d" stroke="#cb181d" stroke-width="1.6"/>
<path d="M390.6,365.4 410.6,366.8 419.4,366.2 421.8,366.8 420.6,367.9 411.2,367.9 410.0,377.4 408.2,385.6 407.6,393.8 405.3,395.6 400.4,394.4 398.2,390.3 395.9,382.6 393.5,375.0Z" fill="#fc9272" stroke="#fc9272" stroke-width="1.6"/>
<path d="M410.6,367.9 420.6,367.9 425.3,372.6 428.2,377.4 425.3,380.9 421.8,384.4 417.1,387.4 414.1,386.8 411.2,389.1 408.8,387.4 408.2,385.6 410.0,377.4Z" fill="#fee0d2" stroke="#fee0d2" stroke-width="1.6"/>
<path d="M420.6,366.8 425.3,365.6 431.2,362.1 437.1,361.5 438.2,366.8 437.6,373.8 434.1,377.9 428.2,377.4 425.3,372.6Z" fill="#fcbba1" stroke="#fcbba1" stroke-width="1.6"/>
<path d="M400.4,394.4 405.3,395.6 407.6,393.8 408.8,387.4 411.2,389.1 414.1,386.8 417.1,387.4 421.8,384.4 425.3,380.9 428.2,377.4 434.1,377.9 434.1,382.1 435.3,388.5 432.4,390.3 435.3,392.6 434.1,395.6 430.0,400.9 425.3,405.0 419.4,407.9 410.0,409.7 405.3,411.2 402.9,406.8 401.8,400.9Z" fill="#fff5f0" stroke="#fff5f0" stroke-width="1.6"/>
<path d="M422.4,397.4 425.9,395.0 428.2,397.4 424.7,400.3Z" fill="#fcbba1" stroke="#fcbba1" stroke-width="1.6"/>
<path d="M431.8,388.5 434.1,387.4 434.9,390.3 432.9,391.2Z" fill="url(#hatch)" stroke="url(#hatch)" stroke-width="1.6"/>
<path d="M476.0,352.0 477.5,355.0 478.0,360.0 477.0,362.0 474.5,370.0 471.0,377.0 468.0,384.0 465.0,386.5 462.0,385.0 461.0,378.0 463.0,374.0 463.5,363.0 468.0,361.0 473.0,358.0Z" fill="#a50f15" stroke="#a50f15" stroke-width="1.6"/>
<path d="M461.2,276.8 469.4,273.5 476.5,271.7 481.2,271.5 483.8,276.2 475.3,280.9 465.9,285.0 461.8,283.2Z" fill="#fc9272" stroke="#fc9272" stroke-width="1.6"/>
<path d="M452.0,225.0 458.7,223.7 462.0,225.9 462.9,229.9 465.6,233.9 469.6,240.6 468.0,243.0 464.0,242.3 458.7,239.0 452.0,236.3 448.7,233.7 450.7,228.3Z" fill="#fff5f0" stroke="#fff5f0" stroke-width="1.6"/>
<path d="M441.3,235.0 448.7,233.7 452.0,236.3 446.7,239.0 444.7,242.3 441.3,241.7Z" fill="#fff5f0" stroke="#fff5f0" stroke-width="1.6"/>
</g>
<path d="M47.3,153.5 53.4,149.0 60.1,145.1 63.5,146.8 66.8,149.6 70.2,151.0 73.5,151.2 79.1,150.1 82.5,146.8 86.9,144.5 92.5,142.3 99.2,140.6 107.1,140.1 112.6,141.2 120.5,142.3 127.2,143.4 135.0,144.5 140.0,143.0 150.0,141.4 157.1,143.2 168.0,143.7 177.0,147.3 188.8,148.5 197.0,150.8 204.0,151.7 211.2,154.4 218.0,156.0 224.0,158.0 229.3,159.7 234.7,162.3 237.3,167.7 242.7,165.0 245.3,167.7 246.7,174.3 249.3,178.3 252.0,182.3 253.3,187.7 250.7,189.0 245.3,187.7 240.0,189.0 234.7,191.7 229.3,195.7 226.7,199.7 224.0,205.0 230.0,203.0 236.0,201.0 240.0,202.0 237.0,205.0 229.0,208.0 222.0,208.0 216.0,210.0 214.0,212.0 209.0,213.0 205.0,215.0 200.0,218.0 198.0,222.0 197.0,227.0 193.0,231.0 188.0,236.0 183.9,244.5 184.8,251.1 183.1,254.3 180.7,249.4 178.2,243.7 177.3,241.2 169.1,242.0 160.9,243.7 154.3,243.7 147.7,244.5 144.4,247.8 141.1,247.8 137.8,243.7 132.9,243.7 127.9,237.9 121.3,237.1 113.1,236.2 105.7,235.4 101.6,230.1 99.5,219.5 102.7,211.1 110.1,200.5 113.3,194.1 111.2,187.8 109.3,183.6 113.8,176.9 111.5,174.7 112.6,170.2 109.3,166.9 103.7,165.8 98.1,164.6 93.6,163.5 86.9,163.5 79.1,164.6 73.5,166.9 69.1,169.1 64.6,168.6 60.7,165.8 61.2,161.3 60.1,159.1 62.4,156.8 67.9,154.6 62.0,154.0 56.8,153.8 50.0,154.5Z" class="nd"/>
<path d="M73.5,167.2 67.9,170.6 60.1,173.4 51.2,176.2 44.5,178.2 44.3,179.0 51.2,177.4 60.1,174.8 67.9,172.2 73.5,168.6Z" class="nd"/>
<path d="M66.8,139.3 70.0,138.8 72.4,139.8 69.0,140.6Z" class="nd"/>
<path d="M1.5,262.0 3.0,261.8 3.2,263.0 1.8,263.2Z" class="nd"/>
<path d="M5.0,264.0 7.0,263.6 7.4,265.0 5.4,265.2Z" class="nd"/>
<path d="M9.0,266.5 11.5,266.8 12.5,269.5 10.5,270.0 9.3,268.5Z" class="nd"/>
<path d="M188.7,166.3 192.0,162.3 198.7,158.3 205.3,157.0 210.7,158.3 216.0,159.0 218.7,161.0 217.3,165.0 218.7,169.0 216.0,173.0 210.7,175.7 208.0,178.3 207.3,183.7 204.0,185.0 202.7,179.7 200.0,175.7 194.7,173.0 189.3,170.3Z" class="wt"/>
<path d="M205.0,152.5 209.0,151.8 212.0,153.5 211.0,156.0 207.0,156.5Z" class="wt"/>
<path d="M175.5,129.4 181.7,127.1 188.2,126.6 189.2,128.5 185.4,130.8 178.8,131.3Z" class="nd"/>
<path d="M193.9,126.1 197.7,124.7 201.4,124.2 200.5,126.1 196.7,127.1Z" class="nd"/>
<path d="M181.7,131.8 188.2,129.9 195.8,128.9 199.5,129.9 197.7,132.2 191.1,133.2 184.5,133.2Z" class="nd"/>
<path d="M205.2,130.8 208.9,128.5 214.6,128.0 216.5,130.3 212.7,132.7 207.1,132.7Z" class="nd"/>
<path d="M208.0,124.7 211.8,123.3 216.5,124.2 214.6,126.1 209.9,126.1Z" class="nd"/>
<path d="M216.5,128.0 220.2,125.2 225.9,124.2 227.8,127.1 225.9,130.8 221.2,132.7 217.4,131.8Z" class="nd"/>
<path d="M224.0,122.0 231.0,119.0 237.0,117.6 244.0,117.3 250.0,117.5 254.0,119.0 252.0,124.0 246.0,128.0 240.0,129.6 233.0,128.0 228.0,126.0Z" class="nd"/>
<path d="M160.0,138.3 165.7,134.6 171.3,133.2 178.8,134.6 180.7,137.4 176.9,140.2 170.3,142.1 163.8,142.1Z" class="nd"/>
<path d="M168.5,140.2 174.1,136.5 183.5,135.1 190.1,135.5 193.9,139.3 192.0,144.0 185.4,146.8 178.8,147.8 171.3,146.8Z" class="nd"/>
<path d="M197.7,136.5 203.3,134.1 208.9,134.6 212.7,138.3 210.8,142.1 205.2,143.1 199.5,141.2Z" class="nd"/>
<path d="M216.5,138.3 222.1,135.5 227.8,134.6 232.4,135.5 241.8,139.1 250.0,142.6 253.5,149.6 256.0,150.3 250.7,153.0 245.3,157.0 240.0,157.0 234.7,155.7 229.3,153.7 224.0,151.7 218.7,147.7 216.5,143.5Z" class="nd"/>
<path d="M206.0,134.5 214.0,134.0 221.0,136.5 222.0,141.0 215.0,142.5 208.0,141.0Z" class="nd"/>
<path d="M199.0,143.5 205.0,143.0 207.0,147.0 201.0,149.0Z" class="nd"/>
<path d="M186.0,135.0 192.0,134.0 197.0,136.0 196.0,140.0 190.0,141.0 186.0,139.0Z" class="nd"/>
<path d="M199.0,127.5 204.0,127.0 207.0,129.5 205.0,133.0 200.0,133.0Z" class="nd"/>
<path d="M193.0,142.0 200.0,141.5 204.0,144.5 201.0,148.0 195.0,147.0Z" class="nd"/>
<path d="M222.0,130.0 228.0,129.0 231.0,132.0 226.0,134.0Z" class="nd"/>
<path d="M206.0,157.5 212.0,157.0 214.0,159.5 209.0,161.0 206.0,160.0Z" class="nd"/>
<path d="M243.0,190.0 249.0,189.0 255.0,191.0 254.0,196.0 249.0,199.0 244.0,197.0Z" class="nd"/>
<path d="M234.7,121.4 248.8,117.9 267.6,117.9 291.2,116.7 314.7,116.7 333.5,117.9 345.3,119.1 335.9,122.6 333.5,128.5 331.2,135.5 324.1,142.6 314.7,149.7 300.6,156.7 288.8,162.6 280.6,164.9 274.7,161.4 271.2,152.0 273.5,140.2 270.0,133.2 260.6,128.5 251.2,126.1 244.1,124.9Z" class="nd"/>
<path d="M321.8,150.8 331.2,149.7 338.2,152.0 335.9,155.5 326.5,156.7 321.8,154.3Z" class="nd"/>
<path d="M105.7,235.4 113.1,236.2 121.3,237.1 127.9,237.9 132.9,243.7 137.8,243.7 140.3,247.8 142.8,252.7 143.6,260.9 144.4,267.5 147.7,271.6 151.8,272.5 157.6,270.0 160.1,265.9 162.5,265.1 165.8,265.1 166.7,267.5 164.2,270.8 160.9,273.3 157.6,273.8 154.3,277.4 151.8,279.1 147.7,278.2 141.9,275.8 136.2,274.1 127.9,270.8 124.7,267.5 123.0,260.9 121.0,257.2 118.2,251.5 114.5,244.0 111.3,237.5 110.0,238.5 110.8,244.0 112.7,250.0 115.2,255.5 116.4,259.0 113.5,259.0 110.7,253.4 107.9,247.8 106.6,242.1Z" fill="#fff5f0" class="cl"/>
<path d="M154.3,277.4 157.6,273.8 160.9,273.3 160.9,275.8 160.1,280.7 156.8,283.2 151.8,280.7Z" fill="#fc9272" class="cl"/>
<path d="M160.9,273.3 162.5,272.8 162.5,277.1 160.9,277.4Z" fill="#fcbba1" class="cl"/>
<path d="M160.1,279.1 165.8,278.2 171.6,279.9 169.1,282.4 164.2,284.0 160.9,283.2Z" fill="#fcbba1" class="cl"/>
<path d="M156.8,283.2 160.1,281.0 160.9,283.2 160.1,284.8 156.3,284.3Z" fill="#fcbba1" class="cl"/>
<path d="M160.9,283.2 164.2,284.0 169.1,282.4 171.6,280.4 172.4,284.8 171.6,290.6 167.5,291.4 163.3,287.3Z" class="nd"/>
<path d="M166.1,291.5 169.2,291.0 172.2,294.5 172.2,298.4 169.5,297.1 166.4,294.5Z" fill="#fff5f0" class="cl"/>
<path d="M172.2,294.5 175.3,295.3 179.9,295.0 183.7,296.1 184.5,299.9 181.4,298.4 178.3,299.1 175.3,298.4 172.2,298.4Z" class="nd"/>
<path d="M171.6,262.6 177.3,260.1 183.9,261.8 190.5,265.1 194.7,267.5 188.9,268.4 183.9,265.9 175.7,263.4Z" fill="#fff5f0" class="cl"/>
<path d="M193.8,268.4 198.8,268.4 199.6,272.5 194.7,272.5Z" fill="#fb6a4a" class="cl"/>
<path d="M198.8,268.4 205.3,269.2 207.0,271.6 199.6,272.5Z" fill="#fff5f0" class="cl"/>
<path d="M184.8,271.6 188.1,271.1 190.2,272.5 187.2,273.5Z" fill="#fff5f0" class="cl"/>
<path d="M209.5,271.6 213.6,271.5 213.6,272.8 209.6,272.8Z" class="nd"/>
<path d="M186.4,250.2 188.1,249.4 188.9,255.2 187.2,256.0Z" class="nd"/>
<path d="M208.9,316.7 215.1,310.6 222.7,309.1 224.2,310.6 226.5,316.7 231.1,314.4 234.9,314.4 238.8,312.1 244.9,310.6 248.7,319.8 257.9,324.4 267.1,328.2 276.2,332.0 282.4,335.8 282.4,341.2 277.8,348.8 275.5,356.5 273.3,363.8 270.1,374.6 263.6,380.0 257.1,384.4 253.8,391.9 252.8,398.4 247.4,404.9 244.1,402.8 241.9,397.4 240.9,393.0 234.4,390.9 235.4,381.1 232.2,371.4 231.1,368.1 224.6,361.6 220.3,355.1 211.7,346.5 204.3,348.8 199.0,346.5 192.9,341.2 193.7,336.6 199.8,332.8 201.3,330.5 201.3,322.8 202.1,315.9Z" fill="#fff5f0" class="cl"/>
<path d="M195.9,289.2 199.8,288.4 205.9,291.5 212.0,293.8 221.2,293.0 222.7,294.5 221.2,299.9 224.2,305.2 222.7,309.1 215.1,310.6 208.9,316.7 207.4,312.9 201.3,302.9 195.9,296.8 196.7,291.5Z" class="nd"/>
<path d="M184.5,299.9 186.8,293.0 190.6,290.7 195.9,289.2 196.7,291.5 195.9,296.8 201.3,302.9 207.4,312.9 208.9,316.7 202.1,315.9 201.3,322.8 201.3,330.5 195.2,332.0 189.1,322.1 182.2,316.7 182.9,310.6Z" fill="#fff5f0" class="cl"/>
<path d="M176.8,318.2 181.4,315.9 189.1,321.6 184.5,328.9 179.9,332.8 176.1,330.5Z" fill="#fff5f0" class="cl"/>
<path d="M176.1,331.2 179.9,332.8 184.5,328.9 189.1,322.1 195.2,332.0 200.1,332.8 193.7,336.6 192.9,341.2 199.0,346.5 204.3,348.8 205.9,358.0 204.1,368.1 186.0,359.5 179.9,345.8Z" fill="#fff5f0" class="cl"/>
<path d="M222.7,299.1 227.3,301.4 230.3,306.0 228.8,310.6 231.1,314.4 226.5,316.7 224.2,310.6 221.2,307.5 222.7,304.5Z" fill="#fff5f0" class="cl"/>
<path d="M230.3,306.0 238.0,304.5 238.8,312.1 234.9,314.4 231.1,314.4 228.8,310.6Z" fill="#fff5f0" class="cl"/>
<path d="M238.0,305.2 242.6,307.5 244.9,310.6 241.1,312.9 238.8,312.1Z" class="nd"/>
<path d="M205.2,348.7 211.7,346.5 220.3,355.1 224.6,361.6 231.1,368.1 232.2,371.4 222.5,372.5 220.3,377.9 212.7,379.0 209.5,381.1 207.3,376.8 204.1,368.1Z" fill="#fff5f0" class="cl"/>
<path d="M222.5,372.5 232.2,371.4 235.4,381.1 241.9,386.5 239.8,391.9 234.4,390.9 232.2,386.5 222.5,381.1Z" fill="#fff5f0" class="cl"/>
<path d="M209.5,381.1 212.7,379.0 220.3,377.9 222.5,381.1 232.2,386.5 234.4,390.9 239.8,391.9 241.9,394.1 236.5,399.5 236.5,407.1 238.7,414.7 235.4,420.1 230.0,422.2 229.0,427.7 226.8,433.1 227.9,441.7 225.7,450.4 229.0,456.9 233.3,461.2 236.5,463.4 229.0,461.2 222.5,458.0 218.1,452.6 216.0,443.9 213.8,433.1 210.6,422.2 209.5,411.4 209.5,400.6 208.4,389.8Z" fill="#fff5f0" class="cl"/>
<path d="M236.5,399.5 241.9,394.1 245.2,404.9 244.1,410.4 239.8,411.4 236.5,407.1Z" class="nd"/>
<path d="M204.1,368.1 207.3,376.8 209.5,381.1 208.4,389.8 209.5,400.6 209.5,411.4 210.6,422.2 213.8,433.1 216.0,443.9 218.1,452.6 222.5,458.0 229.0,461.2 236.5,463.4 229.0,462.3 220.3,458.6 213.8,453.0 209.5,441.7 207.3,430.9 205.2,415.8 205.2,400.6 205.2,383.3Z" class="nd"/>
<path d="M372.8,166.5 371.8,162.2 373.9,159.1 379.2,155.9 384.5,151.7 389.8,147.4 396.1,144.2 392.6,144.0 405.8,140.2 415.2,142.1 426.5,145.9 435.9,147.8 445.3,145.9 454.7,144.9 466.0,142.1 472.6,136.5 479.2,138.4 482.9,142.1 486.7,140.2 490.5,135.5 499.9,132.7 509.3,129.9 518.7,127.1 528.0,128.0 536.0,129.0 538.0,132.0 546.0,134.0 558.0,135.0 566.0,136.0 572.0,138.0 580.0,139.0 586.0,137.0 592.0,137.0 604.0,138.0 616.0,140.0 626.0,142.0 634.0,143.0 644.0,142.0 652.0,144.0 660.0,145.0 668.0,149.0 675.3,153.5 684.7,159.4 676.5,164.1 670.6,164.7 665.9,166.5 670.6,170.6 673.5,174.7 675.3,180.6 675.3,187.6 670.6,181.8 664.7,176.5 659.4,171.8 657.6,164.1 651.8,161.8 647.1,165.3 638.8,167.6 627.0,168.8 624.7,174.7 627.0,179.4 637.6,181.8 643.5,188.8 645.8,195.0 645.8,203.3 642.5,206.7 637.5,208.3 636.7,210.0 635.8,203.3 637.5,198.3 635.0,195.0 630.0,193.3 620.0,190.0 610.0,183.3 599.8,180.8 595.2,190.0 579.9,191.5 567.7,188.4 558.5,186.9 540.1,190.0 538.8,191.9 533.2,189.8 527.5,188.4 521.9,186.9 519.1,184.1 512.0,179.2 507.8,180.6 502.1,179.2 496.5,176.4 488.0,178.5 482.4,180.6 483.8,184.1 480.9,187.6 473.9,186.9 469.6,185.5 461.2,186.2 457.6,189.8 457.6,192.6 460.0,197.0 461.3,203.0 464.0,209.7 468.0,216.3 466.7,221.7 470.7,222.3 477.3,223.0 482.4,219.6 489.4,221.5 496.5,223.6 496.0,228.5 496.8,235.3 498.3,239.7 500.2,243.2 502.0,249.5 501.7,254.3 497.3,252.3 490.7,249.7 484.0,247.0 477.3,242.3 470.7,241.7 476.0,245.7 482.7,251.0 486.7,252.3 489.3,256.3 494.7,260.3 497.3,261.7 496.7,264.3 493.3,269.7 489.3,273.7 486.0,276.5 483.8,276.2 475.3,280.9 465.9,285.0 461.8,283.2 461.2,276.8 454.7,275.0 452.0,269.7 446.7,259.0 440.0,249.7 442.5,244.5 441.5,241.0 440.6,239.0 440.0,233.7 440.7,229.7 441.3,228.3 440.0,226.0 437.6,224.7 431.8,224.1 427.1,224.7 422.4,222.3 421.2,218.8 422.4,215.3 420.0,212.9 416.5,217.7 414.1,220.0 414.1,223.5 411.8,225.9 409.4,223.5 407.1,218.8 404.7,215.3 404.1,212.9 402.4,209.4 398.8,205.9 395.3,202.3 391.8,198.8 389.4,197.1 388.2,200.0 389.4,203.5 392.9,208.2 397.6,212.9 401.2,216.5 399.4,217.4 397.1,215.9 395.3,220.0 393.5,221.2 391.8,217.7 389.4,214.1 386.5,210.6 383.5,207.1 380.6,204.1 380.0,202.3 377.6,202.9 375.3,204.7 371.8,205.9 368.2,208.2 364.7,210.6 361.8,214.1 362.4,218.8 358.8,222.9 354.1,225.3 349.4,224.7 345.3,222.3 342.9,218.8 343.5,211.8 344.1,207.7 347.1,206.5 354.1,206.5 358.8,207.1 359.4,204.7 360.6,200.0 361.2,195.3 354.1,191.8 355.9,192.9 359.1,191.9 363.3,190.8 366.5,188.7 369.6,186.6 371.8,183.4 377.1,182.3 380.2,180.2 379.2,177.1 380.2,173.9 383.4,174.9 385.5,178.1 389.0,179.0 392.7,178.2 397.2,179.0 401.7,179.0 404.0,177.5 404.7,175.2 403.2,173.0 404.0,170.7 405.5,168.5 408.5,167.7 413.0,167.0 414.5,165.5 411.5,165.5 407.7,164.7 404.7,163.2 401.7,161.0 401.0,158.7 401.7,155.7 404.7,153.1 402.5,152.0 401.7,152.4 400.2,154.2 398.0,156.5 395.7,158.7 396.5,161.0 397.2,164.0 395.7,165.5 395.7,168.5 395.0,171.5 392.0,173.7 389.0,175.2 387.0,176.3 385.5,176.0 384.5,170.7 380.2,167.5 376.0,168.6Z" class="nd"/>
<path d="M352.2,169.7 355.9,169.1 358.5,171.8 358.0,174.9 361.2,178.1 364.4,182.3 366.5,185.5 364.4,187.7 359.1,188.7 353.8,189.8 355.9,186.6 354.3,182.3 352.7,179.2 351.6,174.9Z" class="nd"/>
<path d="M344.2,182.3 347.4,178.1 350.6,177.6 351.6,181.3 349.5,184.5 345.3,185.5Z" class="nd"/>
<path d="M381.2,208.2 382.9,208.2 382.9,217.7 381.2,217.7Z" class="nd"/>
<path d="M381.8,204.1 382.9,204.1 382.6,207.7 381.8,207.3Z" class="nd"/>
<path d="M389.4,220.0 394.1,219.4 392.9,222.9Z" class="nd"/>
<path d="M412.9,227.1 420.0,227.3 419.4,228.2 412.9,228.0Z" class="nd"/>
<path d="M436.0,228.0 440.5,227.5 439.0,229.5Z" class="nd"/>
<path d="M655.8,202.5 660.0,203.3 665.0,205.8 663.3,210.0 660.0,208.3 656.7,206.7Z" class="nd"/>
<path d="M660.0,209.2 663.3,213.3 665.8,218.3 668.0,223.3 667.5,226.7 663.3,228.3 658.3,230.0 653.3,232.5 650.0,235.8 647.5,233.3 651.7,229.2 656.7,225.8 661.7,223.3 662.5,218.3 660.0,213.3 657.5,209.2Z" class="nd"/>
<path d="M648.0,234.2 650.8,235.8 651.7,239.2 648.7,239.2 647.2,237.0Z" class="nd"/>
<path d="M653.5,233.5 657.5,233.0 657.0,235.0 654.0,235.5Z" class="nd"/>
<path d="M630.0,213.3 636.7,210.0 637.5,213.3 640.0,220.0 643.3,226.7 641.7,230.0 636.7,228.3 633.3,221.7 628.3,218.3Z" class="nd"/>
<path d="M639.7,179.2 641.7,180.0 645.8,185.8 650.8,192.5 654.2,198.3 652.5,198.7 649.2,193.3 644.2,186.7 640.3,181.7Z" class="nd"/>
<path d="M634.2,255.0 636.7,254.2 635.8,260.8 633.3,259.2Z" class="nd"/>
<path d="M592.7,304.8 595.9,304.4 599.1,306.9 601.2,315.4 596.9,316.5 594.8,311.2Z" class="nd"/>
<path d="M618.1,315.4 624.5,310.1 630.8,304.8 636.1,302.7 637.2,306.9 634.0,309.1 628.7,311.2 622.4,315.4Z" class="nd"/>
<path d="M614.7,409.7 615.6,400.0 617.4,389.4 618.2,381.5 622.6,376.2 631.5,372.6 637.6,369.1 642.9,363.8 649.1,357.6 653.5,356.8 657.9,357.6 661.5,353.2 665.9,349.7 670.3,351.5 675.6,352.4 673.8,357.6 677.4,361.2 682.6,365.6 685.3,358.5 687.9,350.6 690.6,348.8 692.4,354.1 695.0,364.7 700.3,373.5 704.7,382.4 705.6,391.2 702.1,400.0 696.8,408.8 689.7,415.9 682.6,419.4 675.6,421.2 668.5,420.3 665.0,415.9 661.5,409.7 657.9,407.1 652.6,402.6 645.6,402.6 636.8,404.4 629.7,405.3 622.6,408.8 617.4,411.5Z" class="nd"/>
<path d="M668.5,427.4 675.6,426.5 674.7,430.0 670.3,433.5 667.6,431.8Z" class="nd"/>
<path d="M739.1,410.6 741.8,415.9 746.2,418.5 740.9,422.9 735.6,427.4 732.9,426.5 736.5,421.2 739.1,415.9Z" class="nd"/>
<path d="M729.4,426.5 732.1,428.2 726.8,433.5 719.7,437.9 710.9,441.5 705.6,440.6 710.9,436.2 719.7,431.8 726.8,428.2Z" class="nd"/>
<path d="M734.2,372.6 735.2,372.4 740.0,378.0 739.2,378.8Z" class="nd"/>
<path d="M422.1,205.3 423.8,200.6 426.8,199.4 429.7,201.2 432.0,202.5 435.0,203.0 440.3,203.5 446.2,206.5 450.3,209.4 447.4,212.4 441.5,212.4 435.6,210.6 431.5,210.9 426.8,212.4 423.2,212.4 422.1,210.0Z" class="wt"/>
<path d="M538.8,191.9 536.0,195.4 533.9,200.4 530.4,203.9 526.1,212.4 523.3,213.8 523.3,218.0 524.2,222.8 529.0,226.3 530.8,229.3 533.5,230.0 536.5,235.3 541.0,240.5 544.0,240.5 550.0,243.5 556.0,245.8 562.0,247.3 567.2,246.5 571.0,245.0 576.2,244.3 580.0,246.5 583.3,253.3 586.7,260.0 590.8,264.2 595.0,260.8 600.0,260.0 605.0,263.3 607.5,263.3 610.0,264.2 613.3,265.0 617.5,262.5 623.3,260.0 628.3,256.7 631.7,251.7 633.3,246.7 632.5,241.7 630.0,236.7 625.0,231.7 621.7,227.5 626.7,223.3 623.3,221.7 615.0,220.0 615.0,218.3 621.7,215.0 630.0,213.3 636.7,210.0 637.5,208.3 635.8,203.3 637.5,198.3 635.0,195.0 630.0,193.3 620.0,190.0 610.0,183.3 599.8,180.8 595.2,190.0 579.9,191.5 567.7,188.4 558.5,186.9 540.1,190.0Z" fill="#fff5f0" class="cl"/>
<path d="M539.0,192.0 546.0,189.0 558.0,186.0 568.0,189.0 578.0,190.0 590.0,190.0 597.0,191.0 599.0,195.0 607.0,197.0 596.0,202.0 594.0,207.0 584.0,211.0 576.0,210.0 564.0,207.0 554.0,203.0 548.0,196.0Z" fill="#fff5f0" class="cl"/>
<path d="M457.6,189.8 461.2,186.2 469.6,185.5 473.9,186.9 480.9,187.7 483.8,184.1 482.4,180.6 488.0,178.5 496.5,176.3 502.1,179.2 507.8,180.6 512.0,179.2 519.1,184.1 521.9,186.9 527.5,188.3 533.2,189.8 538.8,191.9 536.0,195.4 533.9,200.3 530.4,203.9 524.7,207.4 517.6,208.1 513.4,210.9 507.8,208.1 502.1,207.4 496.5,205.3 488.0,202.5 482.4,201.8 479.5,203.9 480.9,210.9 475.3,210.9 472.5,208.1 471.8,203.9 468.2,201.1 462.6,198.2 459.8,195.4 457.6,192.6Z" fill="#fff5f0" class="cl"/>
<path d="M479.5,202.5 482.4,201.8 488.0,202.5 496.5,205.3 502.1,207.4 507.8,208.8 512.0,211.7 516.2,210.9 519.1,212.3 513.4,215.2 509.2,217.3 507.1,221.5 502.1,219.4 496.5,215.2 489.4,212.3 483.8,210.9 480.9,210.9Z" fill="#fff5f0" class="cl"/>
<path d="M472.5,208.1 475.3,210.9 480.9,210.9 483.8,210.9 489.4,212.3 496.5,215.2 502.1,218.7 507.1,220.5 506.4,222.5 502.1,225.1 496.5,224.3 489.4,221.5 482.4,219.4 476.7,218.7 473.9,215.2Z" fill="#fff5f0" class="cl"/>
<path d="M513.4,210.9 517.6,208.1 524.7,207.4 530.4,207.4 526.1,212.3 523.3,213.8 519.1,212.3 516.2,210.9Z" fill="#fff5f0" class="cl"/>
<path d="M507.8,212.3 513.4,210.9 519.1,212.3 523.3,213.8 524.0,218.7 519.8,221.9 514.8,221.1 509.2,221.7 506.4,220.8Z" fill="#fff5f0" class="cl"/>
<path d="M462.2,198.9 467.5,197.7 471.2,199.6 470.5,202.2 467.5,204.5 469.7,207.5 473.5,209.7 475.0,212.7 477.2,216.5 478.7,221.0 476.5,224.0 472.0,224.0 468.2,221.0 467.5,218.7 469.0,215.0 467.5,212.0 464.5,209.7 462.2,207.5 460.7,203.7 461.5,200.7Z" class="wt"/>
<path d="M495.8,227.9 502.1,223.7 506.4,221.5 510.6,219.7 514.8,219.1 516.9,221.5 517.6,223.4 519.8,222.5 524.0,222.2 520.5,225.3 518.2,227.0 517.5,232.2 512.8,237.5 509.2,240.5 505.8,242.8 500.2,243.2 498.2,239.8 496.8,235.2 496.0,228.8Z" fill="#a50f15" class="cl"/>
<path d="M524.2,222.8 529.0,226.2 530.8,229.2 526.8,230.8 526.0,237.5 522.2,244.2 518.5,248.8 522.2,254.8 516.2,256.2 514.0,257.8 510.2,253.2 501.7,254.3 502.0,249.5 501.2,245.0 505.8,242.8 509.2,240.5 512.8,237.5 517.5,232.2 518.2,227.0Z" fill="#fc9272" class="cl"/>
<path d="M526.8,230.8 530.8,229.2 533.5,230.0 536.5,235.2 541.0,240.5 543.2,244.2 548.5,246.5 554.5,250.2 560.5,251.0 561.2,247.2 567.2,246.8 571.0,245.0 576.2,244.2 580.0,246.5 576.2,252.5 573.2,255.5 572.2,260.0 569.5,259.2 568.0,254.8 565.8,254.0 564.2,251.8 560.5,251.8 561.2,257.0 563.5,260.0 560.5,261.5 556.0,264.5 553.0,267.5 549.2,270.5 547.0,278.0 544.0,287.0 542.5,293.0 541.8,298.2 539.5,296.0 536.5,288.5 532.8,281.0 530.5,273.5 528.2,267.5 526.0,262.2 522.2,260.0 519.2,259.2 517.0,257.8 514.0,257.8 516.2,256.2 522.2,254.8 518.5,248.8 522.2,244.2 526.0,237.5Z" fill="#fee0d2" class="cl"/>
<path d="M541.8,241.2 544.0,240.5 550.0,243.5 556.0,245.8 561.2,247.2 560.5,251.0 554.5,250.2 548.5,246.8 543.2,244.2Z" fill="#fee0d2" class="cl"/>
<path d="M562.0,247.2 567.2,246.5 567.7,249.2 562.8,249.8Z" fill="#fff5f0" class="cl"/>
<path d="M560.5,251.8 564.2,251.8 565.8,254.0 568.0,254.8 569.5,259.2 566.5,261.5 563.5,260.0 561.2,257.0Z" fill="#fee0d2" class="cl"/>
<path d="M546.2,294.5 548.5,293.8 551.5,299.0 550.0,303.5 547.0,302.0Z" fill="#fff5f0" class="cl"/>
<path d="M573.3,246.7 579.2,246.7 583.3,253.3 586.7,260.0 590.8,264.2 589.2,268.3 586.7,270.0 585.0,275.0 585.8,278.3 588.3,283.3 590.0,288.3 590.8,293.3 588.3,290.0 585.8,282.5 583.3,277.5 578.3,278.3 576.7,271.7 573.3,266.7 572.5,261.7 574.2,255.0Z" fill="#fc9272" class="cl"/>
<path d="M590.8,264.2 593.0,262.5 595.0,261.0 598.0,261.5 598.5,265.5 597.5,269.0 600.5,271.5 603.5,275.0 606.0,279.0 608.0,282.5 605.5,284.0 603.5,281.5 601.0,278.0 597.0,274.0 593.0,273.0 592.0,269.0Z" fill="#fee0d2" class="cl"/>
<path d="M589.0,265.0 591.0,264.0 592.0,269.0 593.0,273.0 597.0,274.0 601.0,278.0 603.5,281.5 603.0,282.5 598.0,284.0 598.0,289.0 596.0,288.5 594.0,288.0 592.0,290.0 591.0,293.0 590.0,297.0 591.0,300.0 593.0,302.0 595.0,304.0 594.0,305.0 591.0,302.0 589.0,299.0 588.5,294.0 589.5,290.0 587.0,284.0 585.0,277.0 585.5,272.0 587.0,268.0Z" fill="#fff5f0" class="cl"/>
<path d="M598.0,284.0 603.0,282.5 605.5,284.0 608.0,283.0 610.0,286.0 609.0,290.0 605.0,292.0 601.0,292.5 598.0,289.0Z" fill="#fcbba1" class="cl"/>
<path d="M598.5,265.5 598.0,261.5 600.0,260.3 605.0,263.2 607.5,263.3 605.0,268.0 604.0,271.0 607.0,275.0 610.0,279.0 612.0,283.0 613.0,287.0 612.0,291.0 609.0,294.0 606.0,297.0 604.0,296.0 605.0,293.0 608.5,290.0 609.0,286.0 608.0,283.0 608.0,282.5 606.0,279.0 603.5,275.0 600.5,271.5 597.5,269.0Z" fill="#fff5f0" class="cl"/>
<path d="M609.2,268.3 613.3,267.5 614.2,270.8 610.8,272.0Z" fill="#fff5f0" class="cl"/>
<path d="M636.7,271.7 640.8,272.5 642.5,276.7 641.7,281.7 643.3,286.7 640.0,285.8 638.3,280.0 637.0,275.8Z" fill="#fff5f0" class="cl"/>
<path d="M643.3,293.3 650.0,294.2 654.2,298.3 653.3,305.0 648.3,304.2 644.2,301.7 645.0,297.5Z" fill="#fff5f0" class="cl"/>
<path d="M641.7,288.3 648.3,290.0 650.0,293.3 644.2,293.3Z" fill="#fff5f0" class="cl"/>
<path d="M632.0,298.3 636.7,291.7 637.5,292.5 633.0,299.2Z" fill="#fff5f0" class="cl"/>
<path d="M582.5,305.9 588.5,306.9 594.8,313.3 601.2,321.8 606.5,328.1 607.5,334.5 604.4,335.5 599.1,329.2 592.7,321.8 586.4,313.3Z" fill="#fff5f0" class="cl"/>
<path d="M605.4,335.5 613.9,337.6 622.4,339.8 627.6,341.9 622.4,342.9 613.9,340.8 606.5,338.7Z" fill="#fff5f0" class="cl"/>
<path d="M614.9,316.5 622.4,315.4 628.7,311.2 634.0,309.1 636.1,315.4 635.1,321.8 631.9,328.1 624.5,330.2 618.1,328.1 614.9,321.8Z" fill="#fff5f0" class="cl"/>
<path d="M637.2,319.6 643.5,317.5 650.9,316.5 645.6,320.7 642.5,323.9 647.8,329.2 644.6,334.5 641.4,330.2 639.3,334.5 637.2,328.1Z" fill="#fff5f0" class="cl"/>
<path d="M664.1,322.8 668.2,321.2 672.4,322.4 673.2,325.7 676.5,327.4 679.8,324.9 683.9,325.3 688.0,326.9 687.2,343.8 683.9,342.2 680.6,341.4 679.8,339.7 680.6,337.2 678.1,333.9 674.8,331.5 670.7,329.8 669.1,327.4 665.8,324.1Z" fill="#fff5f0" class="cl"/>
<path d="M631.0,343.2 633.0,341.6 636.8,342.2 635.5,343.8 632.0,343.9Z" fill="#fff5f0" class="cl"/>
<path d="M638.2,342.6 641.0,341.6 645.8,341.0 645.0,342.4 641.0,343.2 638.5,343.4Z" fill="#fff5f0" class="cl"/>
<path d="M636.4,345.0 638.5,344.5 640.7,346.3 639.0,347.0 637.0,346.2Z" fill="#fff5f0" class="cl"/>
<path d="M656.2,315.4 659.4,315.0 660.5,321.8 657.3,321.3Z" fill="#fff5f0" class="cl"/>
<path d="M656.0,327.4 661.0,326.8 665.0,327.8 661.0,329.2 657.0,328.8Z" fill="#fff5f0" class="cl"/>
<path d="M653.0,328.5 655.5,328.2 655.8,329.8 653.3,330.0Z" fill="#fff5f0" class="cl"/>
<path d="M671.2,333.5 672.5,333.4 673.0,337.5 671.6,337.6Z" fill="#fff5f0" class="cl"/>
<path d="M646.5,346.5 648.0,344.5 649.8,343.2 650.5,344.3 648.5,346.3 647.0,347.0Z" fill="#fff5f0" class="cl"/>
<path d="M649.8,343.2 652.5,342.3 655.7,341.8 655.0,343.0 652.0,344.0 650.5,344.3Z" fill="#ef3b2c" class="cl"/>
<path d="M688.0,326.9 692.9,329.0 697.9,331.5 700.4,334.0 702.8,336.8 701.2,338.1 702.8,341.4 706.1,344.7 709.0,347.5 706.1,347.1 702.0,345.5 699.5,342.2 696.2,340.5 692.9,342.2 691.3,343.8 687.2,343.8Z" fill="#ef3b2c" class="cl"/>
<path d="M704.5,334.8 707.8,336.0 711.1,334.8 713.5,332.3 714.4,331.1 712.7,331.9 710.2,333.5 707.8,334.4 705.0,334.2Z" fill="#ef3b2c" class="cl"/>
<path d="M710.7,326.9 713.5,328.6 716.0,331.5 715.2,332.3 713.1,329.8 710.2,327.8Z" fill="#ef3b2c" class="cl"/>
<path d="M743.0,358.2 744.2,358.4 745.3,363.2 744.3,363.5Z" fill="#fff5f0" class="cl"/>
<path d="M766.0,366.5 768.5,364.5 769.5,366.5 767.0,368.2Z" fill="#fff5f0" class="cl"/>
<path d="M770.0,364.0 773.8,361.8 774.2,362.8 770.5,365.0Z" fill="#fff5f0" class="cl"/>
<path d="M722.4,337.6 726.0,339.5 728.0,341.5 724.0,340.0Z" class="nd"/>
<path d="M728.5,341.8 731.0,343.5 731.5,345.0 729.0,343.5Z" class="nd"/>
<path d="M731.0,345.5 734.5,347.2 735.3,348.2 732.0,347.0Z" class="nd"/>
<path d="M718.9,333.5 721.4,337.2 720.5,337.7 718.6,334.4Z" fill="#ef3b2c" class="cl"/>
<path d="M446.7,206.3 454.7,207.7 460.0,209.7 461.3,211.7 456.0,212.3 450.7,211.0Z" fill="#fff5f0" class="cl"/>
<path d="M456.0,212.3 461.3,211.7 462.7,215.0 461.3,218.3 458.0,216.3Z" fill="#fff5f0" class="cl"/>
<path d="M460.0,209.7 464.0,210.3 467.3,213.7 468.0,219.0 465.3,220.3 462.7,217.7 461.3,218.3 462.7,215.0 461.3,211.7Z" fill="#fff5f0" class="cl"/>
<path d="M402.4,200.6 404.7,200.0 408.2,203.5 410.6,207.1 411.2,211.2 409.4,212.9 407.6,213.5 405.9,216.5 404.1,215.3 403.5,211.8 402.4,208.8 403.5,205.9 402.9,202.9Z" fill="#fff5f0" class="cl"/>
<path d="M378.5,123.3 386.9,121.4 401.1,122.4 396.4,124.2 398.2,126.1 392.6,127.1 386.9,127.1 381.3,126.1Z" class="nd"/>
<path d="M426.5,120.5 435.9,120.5 432.1,121.8Z" class="nd"/>
<path d="M464.1,128.9 456.6,129.9 450.0,132.7 447.2,136.5 449.1,140.2 456.6,141.2 452.8,138.4 451.9,135.5 456.6,131.8 466.9,128.9Z" class="nd"/>
<path d="M493.3,120.5 501.8,120.5 509.3,123.3 505.5,125.2 498.0,124.2Z" class="nd"/>
<path d="M510.2,124.2 518.7,126.1 515.9,127.1Z" class="nd"/>
<path d="M574.0,130.0 582.0,130.0 580.0,132.0 575.0,132.0Z" class="nd"/>
<path d="M588.0,131.0 596.0,132.0 590.0,132.5Z" class="nd"/>
<path d="M654.0,138.5 658.0,138.5 657.0,139.5Z" class="nd"/>
<path d="M350.3,226.8 353.8,227.0 358.8,228.2 359.5,231.5 360.6,235.6 356.2,237.3 350.3,241.1 344.4,243.8 343.2,246.2 335.0,247.3 336.8,245.0 341.1,239.7 341.8,235.6 345.8,231.7Z" fill="#fff5f0" class="cl"/>
<path d="M335.0,247.3 343.2,246.5 343.2,249.1 336.4,252.4 335.9,258.8 333.8,260.3 333.8,263.8 325.0,264.2 327.9,257.4 332.6,250.3Z" class="nd"/>
<path d="M358.8,228.2 366.8,225.6 373.8,224.4 380.3,223.8 379.7,231.5 384.4,239.1 383.2,252.7 389.1,259.1 370.3,269.4 349.4,255.0 343.2,249.1 343.2,246.5 344.4,243.8 350.3,241.1 356.2,237.3 360.6,235.6 359.5,231.5Z" fill="#fff5f0" class="cl"/>
<path d="M380.3,223.8 385.6,223.0 387.0,226.2 385.6,230.3 388.5,234.4 384.4,239.7 382.6,233.8 379.7,231.5Z" fill="#fff5f0" class="cl"/>
<path d="M388.5,234.4 397.4,236.2 405.6,239.9 407.9,236.4 415.0,235.2 407.1,235.6 410.6,235.0 414.1,236.2 417.6,237.9 418.8,267.9 416.5,268.9 400.0,259.7 396.2,260.6 389.1,259.1 383.2,252.7 384.4,239.7Z" fill="#fff5f0" class="cl"/>
<path d="M417.6,237.9 427.1,238.5 430.8,239.7 435.3,238.5 440.6,239.1 441.8,243.8 438.8,243.0 435.3,242.3 440.0,250.3 446.5,262.6 446.5,263.0 418.8,263.0Z" fill="#fff5f0" class="cl"/>
<path d="M325.0,264.2 333.8,263.8 333.8,260.3 335.9,258.8 336.4,252.4 343.2,249.1 349.4,255.0 350.5,279.1 335.9,280.4 334.5,279.4 330.2,277.2 326.9,276.9 325.1,277.5 325.6,270.3Z" fill="#cb181d" class="cl"/>
<path d="M349.4,255.0 370.3,269.4 372.6,270.0 372.1,279.1 364.1,281.5 359.4,281.9 352.8,285.1 351.1,290.2 350.5,293.2 343.9,293.2 343.4,290.2 342.0,288.5 339.6,289.5 336.8,288.5 335.9,280.4 350.5,279.1Z" fill="#a50f15" class="cl"/>
<path d="M370.3,269.4 389.1,259.1 396.2,260.6 397.4,270.3 396.1,273.3 396.1,285.5 391.4,285.1 383.9,285.7 374.5,285.1 371.2,289.3 367.9,287.9 365.1,285.5 364.1,281.5 372.1,279.1 372.6,270.0Z" fill="#67000d" class="cl"/>
<path d="M323.2,281.3 325.1,277.5 326.9,276.9 330.2,277.2 334.5,279.4 335.9,280.4 336.4,287.2 332.1,287.6 327.4,287.6 325.1,286.9 323.6,284.6Z" fill="#fb6a4a" class="cl"/>
<path d="M324.1,284.4 331.2,284.0 331.6,285.5 324.6,285.9Z" fill="#fcbba1" class="cl"/>
<path d="M324.6,287.2 327.4,287.6 329.3,288.4 328.8,290.1 326.5,290.2 325.1,288.8Z" fill="#cb181d" class="cl"/>
<path d="M329.3,288.4 332.1,287.6 336.4,287.2 336.8,288.5 339.6,289.5 342.0,288.5 343.4,290.2 343.9,293.2 344.2,299.2 342.7,299.6 341.1,297.6 338.9,297.0 338.2,294.5 336.4,293.8 334.2,294.5 332.9,295.7 331.2,293.5 329.1,292.1 328.8,290.1Z" fill="#a50f15" class="cl"/>
<path d="M332.9,295.7 334.2,294.5 336.4,293.8 338.2,294.5 338.7,297.0 337.8,299.6 336.4,301.5 334.0,299.6 332.9,297.8Z" fill="#ef3b2c" class="cl"/>
<path d="M337.8,299.6 338.9,297.0 341.1,297.6 342.7,299.6 344.2,299.2 344.8,302.5 345.8,308.6 342.5,307.2 338.7,303.4 336.4,301.5Z" fill="#ef3b2c" class="cl"/>
<path d="M343.9,293.5 350.9,293.1 352.8,294.5 356.1,293.5 356.4,297.8 356.1,303.4 356.6,307.2 351.9,306.7 345.8,308.6 344.8,302.5 344.2,299.2Z" fill="#fb6a4a" class="cl"/>
<path d="M356.1,291.9 363.2,291.6 364.1,293.1 363.6,298.7 364.1,304.4 359.4,307.6 356.6,307.2 356.1,303.4 356.4,297.8 356.1,293.5Z" fill="#fcbba1" class="cl"/>
<path d="M363.2,291.6 365.5,291.9 366.0,294.0 366.5,303.4 364.6,304.4 364.1,293.1Z" fill="#fcbba1" class="cl"/>
<path d="M365.5,291.9 367.9,289.3 370.2,288.8 371.2,291.2 369.3,294.9 369.8,303.4 366.9,303.9 366.5,303.4 366.0,294.0Z" fill="#ef3b2c" class="cl"/>
<path d="M351.1,290.2 352.8,285.1 359.4,281.9 364.1,281.5 365.1,285.5 367.9,287.9 367.9,289.3 365.5,291.9 363.2,291.6 356.1,291.9 356.1,293.5 352.8,294.5 350.9,293.1 350.5,293.2Z" fill="#cb181d" class="cl"/>
<path d="M371.2,289.3 374.5,285.1 383.9,285.7 391.4,285.1 395.0,285.4 395.0,286.7 396.5,288.8 396.7,290.0 395.0,294.2 391.7,299.2 388.3,302.5 383.3,305.0 382.5,308.3 375.8,308.3 373.3,305.0 370.0,303.8 369.8,303.4 369.3,294.9Z" fill="#fc9272" class="cl"/>
<path d="M396.2,260.6 415.0,266.8 400.0,259.7 416.5,268.9 416.8,279.4 414.5,282.7 414.9,288.4 414.5,291.2 406.5,296.8 398.3,300.8 398.5,295.0 397.5,294.2 396.5,288.8 395.0,286.7 394.2,284.2 395.0,278.3 398.3,270.0 397.4,270.3Z" fill="#67000d" class="cl"/>
<path d="M395.0,286.7 396.5,288.8 397.5,294.2 398.5,295.0 398.3,300.8 397.5,303.3 398.8,306.7 399.6,309.2 399.2,314.0 395.8,315.8 392.5,315.4 388.8,315.0 384.6,314.8 385.0,314.2 384.0,311.7 383.3,308.3 382.5,308.3 383.3,305.0 388.3,302.5 391.7,299.2 395.0,294.2 396.5,290.0Z" fill="#fb6a4a" class="cl"/>
<path d="M398.0,300.6 406.5,296.8 414.5,291.2 416.8,293.1 418.2,296.8 422.5,302.5 425.3,305.9 420.6,307.6 414.7,307.1 405.0,309.2 405.0,310.2 402.9,311.2 400.4,312.5 399.3,311.5 396.7,305.0 399.2,309.2 398.8,306.7 397.5,303.3 398.3,300.8Z" fill="#67000d" class="cl"/>
<path d="M418.8,262.9 446.0,262.9 447.4,265.8 449.6,273.3 446.9,276.1 446.5,281.8 445.5,284.2 444.1,290.8 442.1,294.0 439.9,293.5 439.4,291.2 438.0,288.8 436.6,290.7 433.8,293.1 430.0,294.5 426.2,295.4 423.4,294.5 419.6,294.0 418.2,296.8 416.8,293.1 414.5,291.2 414.9,288.4 414.5,282.7 416.8,279.4 416.4,268.9 418.8,267.6Z" fill="#ef3b2c" class="cl"/>
<path d="M418.2,296.8 419.6,294.0 423.4,294.5 426.2,295.4 430.0,294.5 433.8,293.1 436.6,290.7 438.0,288.8 439.4,291.2 439.9,293.5 441.3,294.0 440.8,297.8 439.4,299.6 442.2,303.4 444.1,306.2 443.2,309.1 437.5,310.0 433.8,310.9 429.1,308.1 424.8,306.2 422.5,302.5Z" class="nd"/>
<path d="M449.6,273.3 452.6,276.1 456.4,280.4 460.6,285.1 458.7,285.6 455.9,283.3 451.2,282.4 445.5,284.2 446.5,281.8 446.9,276.1Z" class="nd"/>
<path d="M445.5,284.2 451.2,282.4 455.9,283.3 458.7,285.6 459.9,289.4 462.5,293.2 463.9,295.5 468.1,298.4 472.4,299.8 469.5,302.6 466.2,307.3 459.6,308.2 453.5,310.3 448.8,308.7 445.1,306.8 442.7,304.0 439.9,299.8 441.8,294.1 444.1,290.8Z" fill="#a50f15" class="cl"/>
<path d="M459.9,289.4 462.5,290.4 465.8,290.8 470.5,289.9 479.9,288.9 479.4,293.2 478.0,298.8 474.2,306.4 470.5,312.0 465.8,317.6 458.2,324.2 458.2,311.1 466.2,307.3 469.5,302.6 472.4,299.8 468.1,298.4 463.9,295.5 462.5,293.2Z" class="nd"/>
<path d="M458.7,285.6 461.1,287.1 462.0,289.9 459.9,289.4Z" class="nd"/>
<path d="M442.7,306.8 445.1,306.8 448.8,308.7 453.5,310.3 459.6,308.2 458.2,311.1 458.2,324.2 456.4,327.1 454.0,331.8 449.8,328.5 441.8,322.8 442.2,315.8Z" fill="#fcbba1" class="cl"/>
<path d="M384.6,317.1 388.8,317.1 388.8,315.0 392.5,315.4 395.8,315.8 395.4,320.0 395.8,325.8 393.3,327.1 390.4,326.8 389.8,330.0 387.5,329.6 385.0,326.2 383.3,322.5 384.2,319.2Z" fill="#fff5f0" class="cl"/>
<path d="M384.6,314.8 388.8,314.8 388.8,317.1 384.6,317.1Z" fill="#fff5f0" class="cl"/>
<path d="M395.8,315.8 397.5,314.2 400.4,312.5 402.9,311.2 405.0,310.2 404.8,314.2 404.2,318.3 402.1,323.8 400.8,327.1 399.2,330.0 397.9,332.5 395.4,332.1 393.8,333.3 390.8,332.9 389.8,330.0 390.4,326.8 393.3,327.1 395.8,325.8 395.4,320.0Z" fill="#fcbba1" class="cl"/>
<path d="M405.0,309.2 409.2,307.9 415.8,308.8 421.7,306.7 426.7,306.2 430.0,307.5 432.4,310.0 433.5,311.8 431.8,320.0 430.6,328.2 430.6,335.3 432.4,340.6 428.2,341.8 428.8,347.1 429.4,352.9 425.3,350.6 421.8,349.4 418.2,349.4 417.1,347.1 414.7,346.5 413.5,340.0 408.3,339.2 402.9,340.0 400.8,335.8 392.5,335.4 391.2,334.2 393.8,333.3 395.4,332.1 397.9,332.5 399.2,330.0 400.8,327.1 402.1,323.8 404.2,318.3 404.8,314.2Z" fill="#cb181d" class="cl"/>
<path d="M392.5,335.4 400.8,335.8 402.9,340.0 408.3,339.2 413.5,340.0 414.7,346.5 417.1,347.1 417.1,349.4 417.5,349.2 417.1,353.8 413.2,354.2 412.9,359.1 413.2,363.4 415.4,366.2 409.0,366.2 399.1,365.1 389.9,364.9 390.3,361.2 391.7,355.6 393.8,349.2 393.1,345.0 393.3,348.3 392.5,342.5 391.8,336.7Z" fill="#ef3b2c" class="cl"/>
<path d="M432.4,310.0 440.6,310.6 442.4,311.8 441.8,317.6 441.2,322.9 435.9,323.5 431.8,324.1 431.8,320.0 433.5,311.8Z" fill="#ef3b2c" class="cl"/>
<path d="M431.2,324.1 434.1,323.5 434.5,326.5 431.2,327.1Z" fill="#fb6a4a" class="cl"/>
<path d="M430.6,327.1 433.5,327.1 432.9,330.6 430.9,331.8Z" fill="#67000d" class="cl"/>
<path d="M434.1,323.5 441.2,322.9 451.2,330.6 454.1,331.2 452.4,335.3 454.1,347.1 451.2,349.4 446.5,350.6 441.8,349.4 439.4,346.5 436.5,342.9 432.4,340.6 430.6,335.3 430.9,331.8 432.9,330.6 434.5,326.5Z" fill="#fb6a4a" class="cl"/>
<path d="M428.2,341.8 432.4,340.6 436.5,342.9 439.0,344.5 438.0,350.0 439.0,354.0 440.0,357.5 438.5,358.0 432.5,359.5 430.9,361.1 425.9,364.1 421.7,366.5 418.9,365.5 415.4,366.2 413.2,363.4 412.9,359.1 413.2,354.2 417.1,353.8 417.5,349.2 418.2,349.4 421.8,349.4 425.3,350.6 429.4,352.9 428.8,347.1Z" fill="#fb6a4a" class="cl"/>
<path d="M439.0,344.5 441.0,345.0 441.5,353.0 443.5,357.5 444.0,362.0 442.5,363.5 441.0,361.0 440.0,357.5 439.0,354.0 438.0,350.0Z" fill="#fb6a4a" class="cl"/>
<path d="M442.0,351.0 448.0,350.0 455.0,348.0 456.0,358.0 454.0,362.0 448.0,367.0 442.5,372.0 442.0,377.0 443.5,382.0 437.0,386.0 435.0,390.0 434.0,379.0 436.0,377.0 438.0,370.0 437.0,363.0 432.5,360.0 432.2,359.0 438.5,358.0 440.0,357.5 442.5,363.0 444.0,362.0 443.5,357.5 441.5,353.0Z" fill="#cb181d" class="cl"/>
<path d="M390.6,365.4 410.6,366.8 419.4,366.2 421.8,366.8 420.6,367.9 411.2,367.9 410.0,377.4 408.2,385.6 407.6,393.8 405.3,395.6 400.4,394.4 398.2,390.3 395.9,382.6 393.5,375.0Z" fill="#fc9272" class="cl"/>
<path d="M410.6,367.9 420.6,367.9 425.3,372.6 428.2,377.4 425.3,380.9 421.8,384.4 417.1,387.4 414.1,386.8 411.2,389.1 408.8,387.4 408.2,385.6 410.0,377.4Z" fill="#fee0d2" class="cl"/>
<path d="M420.6,366.8 425.3,365.6 431.2,362.1 437.1,361.5 438.2,366.8 437.6,373.8 434.1,377.9 428.2,377.4 425.3,372.6Z" fill="#fcbba1" class="cl"/>
<path d="M400.4,394.4 405.3,395.6 407.6,393.8 408.8,387.4 411.2,389.1 414.1,386.8 417.1,387.4 421.8,384.4 425.3,380.9 428.2,377.4 434.1,377.9 434.1,382.1 435.3,388.5 432.4,390.3 435.3,392.6 434.1,395.6 430.0,400.9 425.3,405.0 419.4,407.9 410.0,409.7 405.3,411.2 402.9,406.8 401.8,400.9Z" fill="#fff5f0" class="cl"/>
<path d="M422.4,397.4 425.9,395.0 428.2,397.4 424.7,400.3Z" fill="#fcbba1" class="cl"/>
<path d="M431.8,388.5 434.1,387.4 434.9,390.3 432.9,391.2Z" class="nd"/>
<path d="M476.0,352.0 477.5,355.0 478.0,360.0 477.0,362.0 474.5,370.0 471.0,377.0 468.0,384.0 465.0,386.5 462.0,385.0 461.0,378.0 463.0,374.0 463.5,363.0 468.0,361.0 473.0,358.0Z" fill="#a50f15" class="cl"/>
<path d="M461.2,276.8 469.4,273.5 476.5,271.7 481.2,271.5 483.8,276.2 475.3,280.9 465.9,285.0 461.8,283.2Z" fill="#fc9272" class="cl"/>
<path d="M452.0,225.0 458.7,223.7 462.0,225.9 462.9,229.9 465.6,233.9 469.6,240.6 468.0,243.0 464.0,242.3 458.7,239.0 452.0,236.3 448.7,233.7 450.7,228.3Z" fill="#fff5f0" class="cl"/>
<path d="M441.3,235.0 448.7,233.7 452.0,236.3 446.7,239.0 444.7,242.3 441.3,241.7Z" fill="#fff5f0" class="cl"/>
<path d="M113.3,192.0 160.0,192.0 172.0,192.5 183.0,194.5 190.0,199.0 192.0,204.0 188.0,210.5 193.0,209.0 198.0,206.5 205.0,204.5 213.0,202.5 219.0,198.5 223.0,196.0" class="ln"/>
<path d="M127.2,143.4 104.8,164.6" class="ln"/>
<path d="M369.8,186.8 373.9,190.9 376.4,196.7 375.6,199.2" class="ln"/>
<path d="M390.4,180.2 391.2,186.0 392.9,190.1" class="ln"/>
<path d="M387.1,190.9 392.9,190.1 397.0,191.8 401.1,191.8" class="ln"/>
<path d="M379.7,195.9 387.9,195.1 390.4,193.4" class="ln"/>
<path d="M390.4,193.4 393.7,193.0 397.8,193.4 401.1,191.8" class="ln"/>
<path d="M375.6,196.7 379.7,195.9 382.2,198.3 379.7,200.0 376.4,199.2 375.6,196.7" class="ln"/>
<path d="M382.2,198.3 387.9,197.5 394.5,196.7 397.8,195.1" class="ln"/>
<path d="M397.8,193.4 402.8,192.6 407.7,194.2 408.5,196.7 404.4,198.3 399.5,197.5 397.8,195.1" class="ln"/>
<path d="M401.1,177.8 404.4,182.7 406.1,186.8 409.4,191.8" class="ln"/>
<path d="M406.1,192.6 409.4,191.8" class="ln"/>
<path d="M408.5,196.7 414.3,196.7 417.6,200.0" class="ln"/>
<path d="M402.8,173.7 412.6,174.5" class="ln"/>
<path d="M402.8,177.8 411.0,179.4" class="ln"/>
<path d="M366.5,185.2 369.8,186.8" class="ln"/>
<path d="M367.4,183.5 371.5,184.3" class="ln"/>
<path d="M393.7,199.2 399.5,198.3 403.6,200.8" class="ln"/>
<path d="M379.7,175.3 382.2,175.3" class="ln"/>
<path d="M369.8,186.8 373.9,184.3 379.7,182.7 382.2,181.1 386.3,180.2 390.4,180.2" class="ln"/>
<path d="M358.8,207.1 363.5,207.7 368.2,208.2" class="ln"/>
<path d="M344.7,207.1 348.2,209.4 347.1,215.3 345.9,221.2" class="ln"/>
<path d="M412.9,201.2 424.7,201.2" class="ln"/>
<path d="M411.8,209.4 420.0,210.6" class="ln"/>
<path d="M405.9,215.3 412.9,214.1" class="ln"/>
<path d="M411.8,209.4 410.6,207.1" class="ln"/>
<path d="M397.2,144.5 387.5,153.5 384.5,157.2 383.7,162.5 384.5,167.7 383.0,173.0" class="ln"/>
<path d="M398.0,144.5 402.5,148.2 403.2,151.2" class="ln"/>
<path d="M410.0,143.0 411.5,146.0 414.5,152.0 417.5,157.2 419.0,160.2 416.7,163.2 415.2,164.7" class="ln"/>
<path d="M414.5,166.2 416.0,170.0" class="ln"/>
<path d="M406.2,170.0 412.2,170.7 416.0,170.0" class="ln"/>
<path d="M404.7,174.5 410.7,174.5 416.7,173.7" class="ln"/>
<path d="M404.7,177.5 408.5,179.7" class="ln"/>
<path d="M409.9,185.6 416.5,184.8 424.7,184.0 429.7,185.6 434.6,188.9 441.2,190.6 443.7,193.9 441.2,198.0" class="ln"/>
<path d="M409.9,185.6 409.1,188.9 410.7,192.2 417.3,194.7 420.6,197.2 424.7,199.7" class="ln"/>
<path d="M409.9,185.6 409.1,179.9 414.8,177.4 421.4,175.8 424.7,179.9 424.7,184.0" class="ln"/>
<path d="M410.7,192.2 406.6,197.2 409.9,201.3 416.5,203.0 422.2,202.1" class="ln"/>
<path d="M417.3,194.7 419.5,199.0 422.0,201.0" class="ln"/>
<path d="M406.6,197.2 402.0,195.5 398.0,196.5" class="ln"/>
<path d="M409.1,179.9 404.7,177.5" class="ln"/>
<path d="M481.6,271.0 488.1,266.2 488.1,261.8 485.9,258.6 480.5,257.5" class="ln"/>
<path d="M458.7,223.7 458.0,219.5 460.0,216.5" class="ln"/>
<path d="M441.3,228.3 446.0,227.5 452.0,225.5" class="ln"/>
<path d="M441.5,234.5 443.0,230.5 441.0,229.5" class="ln"/>
</g>
<g id="legend">
<rect x="195.30" y="501.4" width="58.52" height="11" fill="#fff5f0"/>
<rect x="253.82" y="501.4" width="58.52" height="11" fill="#fee0d2"/>
<rect x="312.34" y="501.4" width="58.52" height="11" fill="#fcbba1"/>
<rect x="370.86" y="501.4" width="58.52" height="11" fill="#fc9272"/>
<rect x="429.38" y="501.4" width="58.52" height="11" fill="#fb6a4a"/>
<rect x="487.90" y="501.4" width="58.52" height="11" fill="#ef3b2c"/>
<rect x="546.42" y="501.4" width="58.52" height="11" fill="#cb181d"/>
<rect x="604.94" y="501.4" width="58.52" height="11" fill="#a50f15"/>
<path d="M663.46,501.4 H718 L722.5,506.9 L718,512.4 H663.46Z" fill="#67000d"/>
<path d="M195.3,501.4 H718 L722.5,506.9 L718,512.4 H195.3Z" fill="none" stroke="#999" stroke-width="0.5" stroke-opacity="0.6"/>
<line x1="195.30" y1="497.5" x2="195.30" y2="512.4" stroke="#666" stroke-width="0.6"/>
<text x="195.30" y="494.3" text-anchor="middle" class="lg">0</text>
<line x1="253.82" y1="497.5" x2="253.82" y2="512.4" stroke="#666" stroke-width="0.6"/>
<text x="253.82" y="494.3" text-anchor="middle" class="lg">0.05</text>
<line x1="312.34" y1="497.5" x2="312.34" y2="512.4" stroke="#666" stroke-width="0.6"/>
<text x="312.34" y="494.3" text-anchor="middle" class="lg">0.1</text>
<line x1="370.86" y1="497.5" x2="370.86" y2="512.4" stroke="#666" stroke-width="0.6"/>
<text x="370.86" y="494.3" text-anchor="middle" class="lg">0.15</text>
<line x1="429.38" y1="497.5" x2="429.38" y2="512.4" stroke="#666" stroke-width="0.6"/>
<text x="429.38" y="494.3" text-anchor="middle" class="lg">0.2</text>
<line x1="487.90" y1="497.5" x2="487.90" y2="512.4" stroke="#666" stroke-width="0.6"/>
<text x="487.90" y="494.3" text-anchor="middle" class="lg">0.25</text>
<line x1="546.42" y1="497.5" x2="546.42" y2="512.4" stroke="#666" stroke-width="0.6"/>
<text x="546.42" y="494.3" text-anchor="middle" class="lg">0.3</text>
<line x1="604.94" y1="497.5" x2="604.94" y2="512.4" stroke="#666" stroke-width="0.6"/>
<text x="604.94" y="494.3" text-anchor="middle" class="lg">0.35</text>
<line x1="663.46" y1="497.5" x2="663.46" y2="512.4" stroke="#666" stroke-width="0.6"/>
<text x="663.46" y="494.3" text-anchor="middle" class="lg">0.4</text>
<rect x="127.5" y="501.4" width="48" height="11" fill="url(#hatch)" stroke="#aaa" stroke-width="0.6"/>
<line x1="151.5" y1="497.5" x2="151.5" y2="501.4" stroke="#666" stroke-width="0.6"/>
<text x="151.4" y="494.3" text-anchor="middle" class="lg">No data</text>
</g>
<text x="16.2" y="545" class="f fb" textLength="71.8" lengthAdjust="spacingAndGlyphs">Data source:</text>
<text x="92" y="545" class="f" textLength="426.2" lengthAdjust="spacingAndGlyphs">Alkire et al. (2025) - The Global Multidimensional Poverty Index (MPI) 2025</text>
<text x="618.2" y="545" class="f" textLength="212.3" lengthAdjust="spacingAndGlyphs">OurWorldinData.org/poverty | CC BY</text>
<text x="16.2" y="565" class="f fb" textLength="31.8" lengthAdjust="spacingAndGlyphs">Note:</text>
<text x="52" y="565" class="f" textLength="500.3" lengthAdjust="spacingAndGlyphs">Estimates based on the most recent household survey data (between 2013 and 2023). A</text>
<text x="556" y="565" class="f" textLength="93.4" lengthAdjust="spacingAndGlyphs">separate dataset</text>
<line x1="556" y1="567.5" x2="649.4" y2="567.5" stroke="#5b5b5b" stroke-width="0.8"/>
<text x="653.4" y="565" class="f" textLength="168.6" lengthAdjust="spacingAndGlyphs">is produced to monitor trends</text>
<text x="16.2" y="580" class="f" textLength="54.5" lengthAdjust="spacingAndGlyphs">over time.</text>
</svg>
</body></html>
